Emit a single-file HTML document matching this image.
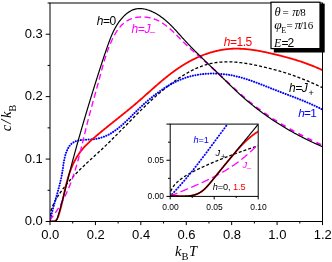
<!DOCTYPE html><html><head><meta charset="utf-8"><style>
html,body{margin:0;padding:0;background:#fff;}svg{display:block;will-change:transform;}
text{font-family:"Liberation Sans",sans-serif;}
.s{font-family:"Liberation Serif",serif;}
</style></head><body>
<svg width="332" height="262" viewBox="0 0 332 262">
<rect width="332" height="262" fill="#fff"/>
<defs><clipPath id="cm"><rect x="50.00" y="3.00" width="272.50" height="218.50"/></clipPath>
<clipPath id="ci"><rect x="170" y="124.2" width="88" height="72.2"/></clipPath></defs>
<g clip-path="url(#cm)" fill="none">
<path d="M49.67 220.93 L49.66 220.23 L49.67 219.53 L49.69 218.83 L49.73 218.14 L49.78 217.45 L49.85 216.77 L49.93 216.08 L50.02 215.41 L50.13 214.73 L50.25 214.06 L50.38 213.39 L50.52 212.73 L50.68 212.06 L50.85 211.41 L51.03 210.75 L51.22 210.10 L51.42 209.45 L51.63 208.80 L51.86 208.16 L52.09 207.52 L52.34 206.89 L52.59 206.25 L52.85 205.62 L53.12 204.99 L53.41 204.37 L53.69 203.75 L53.99 203.13 L54.30 202.51 L54.61 201.90 L54.93 201.28 L55.26 200.67 L55.60 200.07 L55.94 199.46 L56.29 198.86 L56.64 198.26 L57.00 197.67 L57.37 197.07 L57.74 196.48 L58.11 195.89 L58.49 195.30 L58.88 194.72 L59.27 194.14 L59.66 193.55 L60.06 192.98 L60.46 192.40 L60.86 191.82 L61.27 191.25 L61.68 190.68 L62.09 190.11 L62.51 189.54 L62.92 188.98 L63.34 188.42 L63.77 187.86 L64.19 187.30 L64.62 186.74 L65.05 186.19 L65.48 185.63 L65.92 185.08 L66.36 184.53 L66.80 183.99 L67.24 183.44 L67.69 182.90 L68.14 182.36 L68.59 181.83 L69.04 181.29 L69.50 180.76 L69.95 180.23 L70.41 179.70 L70.87 179.17 L71.34 178.65 L71.80 178.13 L72.27 177.61 L72.74 177.09 L73.21 176.57 L73.69 176.06 L74.16 175.55 L74.64 175.04 L75.12 174.53 L75.60 174.03 L76.09 173.53 L76.57 173.03 L77.06 172.53 L77.55 172.03 L78.04 171.54 L78.53 171.04 L79.02 170.55 L79.51 170.06 L80.01 169.57 L80.50 169.08 L81.00 168.60 L81.50 168.11 L82.00 167.63 L82.50 167.14 L83.00 166.66 L83.51 166.18 L84.01 165.70 L84.52 165.23 L85.02 164.75 L85.53 164.27 L86.04 163.80 L86.54 163.32 L87.05 162.85 L87.56 162.38 L88.07 161.90 L88.58 161.43 L89.09 160.96 L89.61 160.49 L90.12 160.02 L90.63 159.55 L91.14 159.08 L91.66 158.61 L92.17 158.14 L92.68 157.67 L93.20 157.21 L93.71 156.74 L94.22 156.27 L94.74 155.80 L95.25 155.33 L95.76 154.86 L96.27 154.39 L96.79 153.92 L97.30 153.45 L97.81 152.98 L98.32 152.51 L98.83 152.04 L99.35 151.57 L99.86 151.10 L100.37 150.63 L100.87 150.15 L101.38 149.68 L101.89 149.21 L102.40 148.73 L102.90 148.25 L103.41 147.78 L103.91 147.30 L104.42 146.82 L104.92 146.34 L105.42 145.86 L105.93 145.38 L106.43 144.90 L106.93 144.41 L107.43 143.93 L107.93 143.44 L108.42 142.96 L108.92 142.47 L109.42 141.99 L109.91 141.50 L110.41 141.01 L110.91 140.52 L111.40 140.03 L111.89 139.54 L112.39 139.05 L112.88 138.56 L113.37 138.07 L113.87 137.58 L114.36 137.09 L114.85 136.59 L115.34 136.10 L115.83 135.61 L116.32 135.11 L116.81 134.62 L117.30 134.12 L117.79 133.63 L118.28 133.13 L118.77 132.64 L119.26 132.14 L119.75 131.64 L120.24 131.15 L120.72 130.65 L121.21 130.15 L121.70 129.66 L122.19 129.16 L122.67 128.66 L123.16 128.16 L123.65 127.66 L124.14 127.17 L124.62 126.67 L125.11 126.17 L125.60 125.67 L126.08 125.18 L126.57 124.68 L127.06 124.18 L127.55 123.68 L128.03 123.18 L128.52 122.69 L129.01 122.19 L129.50 121.69 L129.98 121.19 L130.47 120.70 L130.96 120.20 L131.45 119.70 L131.94 119.21 L132.43 118.71 L132.92 118.22 L133.41 117.72 L133.90 117.22 L134.39 116.73 L134.88 116.24 L135.37 115.74 L135.86 115.25 L136.35 114.75 L136.84 114.26 L137.33 113.77 L137.83 113.28 L138.32 112.79 L138.81 112.29 L139.31 111.80 L139.80 111.31 L140.30 110.83 L140.80 110.34 L141.29 109.85 L141.79 109.36 L142.29 108.87 L142.79 108.39 L143.28 107.90 L143.78 107.42 L144.28 106.93 L144.79 106.45 L145.29 105.97 L145.79 105.49 L146.29 105.01 L146.80 104.53 L147.30 104.05 L147.81 103.57 L148.31 103.09 L148.82 102.62 L149.33 102.14 L149.84 101.67 L150.35 101.19 L150.86 100.72 L151.37 100.25 L151.88 99.78 L152.40 99.31 L152.91 98.84 L153.43 98.37 L153.95 97.91 L154.46 97.44 L154.98 96.98 L155.50 96.52 L156.02 96.05 L156.55 95.59 L157.07 95.13 L157.59 94.68 L158.12 94.22 L158.65 93.77 L159.17 93.31 L159.70 92.86 L160.23 92.41 L160.77 91.96 L161.30 91.51 L161.83 91.06 L162.37 90.62 L162.91 90.17 L163.45 89.73 L163.99 89.29 L164.53 88.85 L165.07 88.41 L165.61 87.98 L166.16 87.54 L166.71 87.11 L167.25 86.68 L167.80 86.25 L168.36 85.82 L168.91 85.39 L169.46 84.97 L170.02 84.54 L170.58 84.12 L171.14 83.70 L171.70 83.28 L172.26 82.87 L172.83 82.45 L173.39 82.04 L173.96 81.63 L174.53 81.22 L175.10 80.81 L175.67 80.41 L176.25 80.00 L176.82 79.60 L177.40 79.20 L177.98 78.81 L178.56 78.41 L179.15 78.02 L179.73 77.63 L180.32 77.24 L180.91 76.86 L181.50 76.48 L182.09 76.10 L182.69 75.72 L183.28 75.35 L183.88 74.98 L184.48 74.62 L185.08 74.25 L185.68 73.89 L186.29 73.54 L186.89 73.19 L187.50 72.84 L188.11 72.49 L188.72 72.15 L189.34 71.82 L189.95 71.48 L190.57 71.16 L191.19 70.83 L191.81 70.51 L192.43 70.20 L193.06 69.89 L193.68 69.58 L194.31 69.28 L194.94 68.98 L195.57 68.69 L196.20 68.40 L196.84 68.12 L197.47 67.85 L198.11 67.58 L198.75 67.31 L199.39 67.05 L200.04 66.80 L200.68 66.55 L201.33 66.30 L201.98 66.07 L202.63 65.84 L203.28 65.61 L203.93 65.39 L204.59 65.18 L205.24 64.97 L205.90 64.77 L206.56 64.58 L207.22 64.39 L207.89 64.21 L208.55 64.04 L209.22 63.87 L209.89 63.71 L210.56 63.56 L211.23 63.42 L211.91 63.28 L212.58 63.15 L213.26 63.02 L213.94 62.90 L214.62 62.79 L215.30 62.69 L215.99 62.59 L216.67 62.50 L217.36 62.41 L218.04 62.33 L218.73 62.26 L219.42 62.19 L220.11 62.13 L220.80 62.08 L221.49 62.03 L222.18 61.98 L222.88 61.95 L223.57 61.91 L224.27 61.89 L224.96 61.86 L225.66 61.85 L226.36 61.84 L227.06 61.83 L227.75 61.83 L228.45 61.84 L229.15 61.85 L229.85 61.86 L230.55 61.88 L231.25 61.91 L231.95 61.93 L232.65 61.97 L233.35 62.01 L234.06 62.05 L234.76 62.10 L235.46 62.15 L236.16 62.20 L236.86 62.26 L237.56 62.33 L238.26 62.39 L238.96 62.47 L239.66 62.54 L240.36 62.62 L241.06 62.70 L241.76 62.79 L242.46 62.88 L243.15 62.97 L243.85 63.07 L244.55 63.17 L245.24 63.28 L245.94 63.38 L246.63 63.49 L247.33 63.60 L248.02 63.72 L248.71 63.84 L249.40 63.96 L250.09 64.08 L250.78 64.21 L251.47 64.34 L252.15 64.47 L252.84 64.61 L253.52 64.74 L254.21 64.88 L254.89 65.02 L255.57 65.16 L256.26 65.31 L256.94 65.45 L257.62 65.60 L258.30 65.75 L258.98 65.90 L259.65 66.06 L260.33 66.21 L261.01 66.37 L261.69 66.53 L262.36 66.68 L263.04 66.84 L263.71 67.01 L264.39 67.17 L265.07 67.33 L265.74 67.49 L266.41 67.66 L267.09 67.82 L267.76 67.99 L268.44 68.16 L269.11 68.32 L269.78 68.49 L270.46 68.66 L271.13 68.83 L271.80 69.01 L272.47 69.18 L273.14 69.35 L273.82 69.53 L274.49 69.71 L275.16 69.88 L275.83 70.06 L276.50 70.24 L277.17 70.43 L277.84 70.61 L278.51 70.80 L279.17 70.98 L279.84 71.17 L280.51 71.36 L281.18 71.56 L281.84 71.75 L282.51 71.95 L283.17 72.15 L283.84 72.35 L284.50 72.55 L285.17 72.75 L285.83 72.96 L286.49 73.17 L287.15 73.38 L287.82 73.59 L288.48 73.81 L289.14 74.03 L289.80 74.25 L290.46 74.47 L291.12 74.69 L291.77 74.92 L292.43 75.15 L293.09 75.38 L293.74 75.61 L294.40 75.84 L295.06 76.08 L295.71 76.32 L296.37 76.56 L297.02 76.80 L297.67 77.04 L298.32 77.29 L298.98 77.54 L299.63 77.79 L300.28 78.04 L300.93 78.29 L301.58 78.54 L302.23 78.80 L302.87 79.06 L303.52 79.32 L304.17 79.58 L304.82 79.84 L305.46 80.11 L306.11 80.37 L306.75 80.64 L307.40 80.91 L308.04 81.18 L308.68 81.46 L309.32 81.73 L309.97 82.01 L310.61 82.28 L311.25 82.56 L311.89 82.84 L312.53 83.12 L313.16 83.41 L313.80 83.69 L314.44 83.97 L315.08 84.26 L315.71 84.55 L316.35 84.84 L316.98 85.13 L317.61 85.42 L318.25 85.72 L318.88 86.01 L319.51 86.31 L320.14 86.60 L320.77 86.90 L321.40 87.20 L322.03 87.50 L322.66 87.80" stroke="#000" stroke-width="1.3" stroke-dasharray="3 2"/>
<path d="M50.06 221.02 L50.20 220.31 L50.35 219.60 L50.49 218.89 L50.64 218.19 L50.80 217.48 L50.96 216.77 L51.12 216.07 L51.28 215.37 L51.45 214.66 L51.62 213.96 L51.79 213.26 L51.96 212.56 L52.14 211.86 L52.32 211.15 L52.50 210.46 L52.68 209.76 L52.87 209.06 L53.05 208.36 L53.24 207.66 L53.43 206.96 L53.62 206.27 L53.82 205.57 L54.01 204.87 L54.21 204.18 L54.40 203.48 L54.60 202.79 L54.80 202.09 L55.00 201.40 L55.19 200.70 L55.39 200.01 L55.59 199.31 L55.79 198.62 L55.99 197.92 L56.19 197.23 L56.39 196.53 L56.59 195.84 L56.79 195.14 L56.99 194.45 L57.18 193.75 L57.38 193.06 L57.57 192.36 L57.77 191.67 L57.96 190.97 L58.15 190.28 L58.34 189.58 L58.53 188.89 L58.72 188.19 L58.90 187.49 L59.09 186.80 L59.27 186.10 L59.45 185.40 L59.63 184.70 L59.80 184.00 L59.97 183.30 L60.14 182.60 L60.31 181.90 L60.47 181.20 L60.63 180.50 L60.79 179.80 L60.95 179.10 L61.10 178.39 L61.25 177.69 L61.39 176.98 L61.53 176.28 L61.67 175.57 L61.80 174.86 L61.93 174.16 L62.05 173.45 L62.17 172.74 L62.29 172.03 L62.40 171.31 L62.51 170.60 L62.62 169.89 L62.72 169.18 L62.82 168.46 L62.93 167.75 L63.03 167.03 L63.13 166.32 L63.24 165.60 L63.34 164.88 L63.45 164.17 L63.56 163.45 L63.68 162.73 L63.80 162.02 L63.93 161.30 L64.06 160.59 L64.20 159.87 L64.35 159.16 L64.50 158.44 L64.67 157.73 L64.84 157.01 L65.02 156.30 L65.22 155.59 L65.42 154.88 L65.64 154.17 L65.87 153.46 L66.11 152.75 L66.37 152.04 L66.64 151.34 L66.92 150.64 L67.23 149.94 L67.54 149.26 L67.88 148.59 L68.23 147.94 L68.60 147.30 L68.99 146.68 L69.39 146.09 L69.82 145.52 L70.26 144.98 L70.73 144.47 L71.21 143.99 L71.72 143.55 L72.24 143.14 L72.79 142.76 L73.35 142.41 L73.93 142.09 L74.52 141.79 L75.14 141.53 L75.76 141.28 L76.40 141.06 L77.06 140.86 L77.72 140.69 L78.40 140.53 L79.09 140.39 L79.79 140.26 L80.50 140.15 L81.22 140.05 L81.94 139.97 L82.67 139.90 L83.41 139.83 L84.16 139.77 L84.90 139.72 L85.66 139.68 L86.41 139.64 L87.17 139.60 L87.93 139.57 L88.69 139.53 L89.45 139.49 L90.20 139.45 L90.96 139.40 L91.71 139.35 L92.46 139.30 L93.21 139.23 L93.95 139.15 L94.69 139.07 L95.41 138.97 L96.14 138.85 L96.85 138.73 L97.56 138.59 L98.26 138.44 L98.96 138.28 L99.65 138.11 L100.33 137.92 L101.01 137.73 L101.68 137.52 L102.35 137.30 L103.01 137.07 L103.66 136.83 L104.31 136.58 L104.95 136.32 L105.59 136.05 L106.23 135.77 L106.85 135.48 L107.48 135.18 L108.10 134.87 L108.71 134.55 L109.32 134.22 L109.93 133.89 L110.53 133.55 L111.13 133.19 L111.72 132.83 L112.31 132.47 L112.89 132.09 L113.48 131.71 L114.05 131.32 L114.63 130.92 L115.20 130.52 L115.77 130.11 L116.33 129.69 L116.89 129.26 L117.45 128.84 L118.01 128.40 L118.56 127.96 L119.11 127.51 L119.66 127.06 L120.21 126.60 L120.75 126.14 L121.29 125.68 L121.83 125.21 L122.37 124.73 L122.91 124.25 L123.44 123.77 L123.97 123.28 L124.50 122.79 L125.03 122.30 L125.56 121.80 L126.09 121.30 L126.62 120.80 L127.14 120.30 L127.67 119.79 L128.19 119.28 L128.72 118.77 L129.24 118.26 L129.76 117.74 L130.28 117.23 L130.81 116.71 L131.33 116.20 L131.85 115.68 L132.38 115.16 L132.90 114.64 L133.42 114.12 L133.95 113.60 L134.47 113.09 L135.00 112.57 L135.53 112.05 L136.06 111.53 L136.58 111.02 L137.12 110.50 L137.65 109.99 L138.18 109.48 L138.71 108.97 L139.25 108.46 L139.78 107.95 L140.32 107.44 L140.86 106.94 L141.40 106.43 L141.94 105.93 L142.48 105.43 L143.03 104.93 L143.57 104.44 L144.12 103.94 L144.67 103.45 L145.21 102.96 L145.76 102.47 L146.32 101.98 L146.87 101.49 L147.42 101.01 L147.98 100.53 L148.54 100.05 L149.10 99.57 L149.66 99.10 L150.22 98.63 L150.78 98.16 L151.35 97.69 L151.91 97.23 L152.48 96.77 L153.05 96.31 L153.62 95.86 L154.19 95.41 L154.77 94.96 L155.34 94.51 L155.92 94.07 L156.50 93.63 L157.08 93.19 L157.66 92.76 L158.25 92.33 L158.83 91.90 L159.42 91.48 L160.01 91.06 L160.60 90.64 L161.20 90.23 L161.79 89.82 L162.39 89.42 L162.99 89.02 L163.59 88.62 L164.19 88.23 L164.79 87.84 L165.40 87.45 L166.01 87.07 L166.62 86.69 L167.23 86.32 L167.85 85.95 L168.46 85.59 L169.08 85.23 L169.70 84.88 L170.32 84.53 L170.95 84.18 L171.57 83.84 L172.20 83.50 L172.83 83.17 L173.46 82.84 L174.10 82.52 L174.74 82.21 L175.37 81.90 L176.02 81.59 L176.66 81.29 L177.31 80.99 L177.95 80.70 L178.60 80.42 L179.26 80.14 L179.91 79.86 L180.57 79.59 L181.23 79.33 L181.89 79.07 L182.55 78.82 L183.22 78.57 L183.89 78.33 L184.56 78.10 L185.23 77.87 L185.91 77.65 L186.59 77.43 L187.27 77.22 L187.95 77.02 L188.64 76.82 L189.33 76.63 L190.02 76.44 L190.71 76.26 L191.40 76.09 L192.10 75.92 L192.80 75.76 L193.50 75.60 L194.20 75.45 L194.90 75.31 L195.60 75.17 L196.31 75.03 L197.02 74.91 L197.73 74.78 L198.44 74.67 L199.15 74.56 L199.86 74.46 L200.58 74.36 L201.29 74.26 L202.01 74.18 L202.73 74.10 L203.45 74.02 L204.17 73.95 L204.89 73.89 L205.61 73.83 L206.33 73.78 L207.05 73.73 L207.78 73.69 L208.50 73.65 L209.23 73.62 L209.95 73.60 L210.68 73.58 L211.40 73.56 L212.13 73.55 L212.85 73.55 L213.58 73.55 L214.31 73.56 L215.03 73.57 L215.76 73.59 L216.48 73.62 L217.21 73.65 L217.93 73.68 L218.66 73.72 L219.39 73.77 L220.11 73.82 L220.83 73.87 L221.56 73.93 L222.28 74.00 L223.00 74.07 L223.72 74.15 L224.44 74.23 L225.16 74.32 L225.88 74.41 L226.60 74.51 L227.32 74.61 L228.03 74.72 L228.75 74.83 L229.46 74.95 L230.18 75.07 L230.89 75.20 L231.60 75.33 L232.30 75.47 L233.01 75.61 L233.72 75.76 L234.42 75.91 L235.13 76.07 L235.83 76.23 L236.53 76.40 L237.23 76.57 L237.93 76.74 L238.63 76.92 L239.33 77.10 L240.02 77.28 L240.72 77.47 L241.41 77.67 L242.10 77.86 L242.80 78.06 L243.49 78.27 L244.18 78.47 L244.87 78.68 L245.56 78.90 L246.25 79.11 L246.93 79.33 L247.62 79.55 L248.31 79.78 L248.99 80.01 L249.67 80.24 L250.36 80.47 L251.04 80.70 L251.72 80.94 L252.40 81.18 L253.09 81.42 L253.77 81.67 L254.45 81.91 L255.13 82.16 L255.80 82.41 L256.48 82.66 L257.16 82.91 L257.84 83.17 L258.51 83.42 L259.19 83.68 L259.87 83.94 L260.54 84.20 L261.22 84.46 L261.89 84.72 L262.57 84.99 L263.24 85.25 L263.92 85.51 L264.59 85.78 L265.27 86.05 L265.94 86.31 L266.61 86.58 L267.29 86.84 L267.96 87.11 L268.63 87.38 L269.31 87.65 L269.98 87.91 L270.65 88.18 L271.33 88.45 L272.00 88.71 L272.67 88.98 L273.34 89.24 L274.02 89.51 L274.69 89.77 L275.36 90.04 L276.04 90.30 L276.71 90.56 L277.39 90.82 L278.06 91.08 L278.73 91.34 L279.41 91.60 L280.08 91.86 L280.76 92.11 L281.43 92.37 L282.10 92.63 L282.78 92.88 L283.45 93.14 L284.13 93.40 L284.80 93.65 L285.48 93.91 L286.15 94.16 L286.82 94.42 L287.50 94.67 L288.17 94.93 L288.84 95.18 L289.52 95.44 L290.19 95.69 L290.86 95.95 L291.54 96.20 L292.21 96.46 L292.88 96.72 L293.56 96.97 L294.23 97.23 L294.90 97.49 L295.57 97.75 L296.24 98.01 L296.91 98.27 L297.58 98.53 L298.25 98.80 L298.92 99.06 L299.59 99.33 L300.26 99.59 L300.93 99.86 L301.60 100.13 L302.27 100.40 L302.94 100.67 L303.60 100.94 L304.27 101.22 L304.93 101.49 L305.60 101.77 L306.27 102.05 L306.93 102.33 L307.59 102.61 L308.26 102.89 L308.92 103.18 L309.58 103.47 L310.24 103.75 L310.90 104.05 L311.57 104.34 L312.22 104.64 L312.88 104.93 L313.54 105.23 L314.20 105.54 L314.86 105.84 L315.51 106.15 L316.17 106.46 L316.82 106.77 L317.48 107.09 L318.13 107.40 L318.78 107.72 L319.43 108.05 L320.08 108.37 L320.73 108.70 L321.38 109.03 L322.03 109.37 L322.68 109.70" stroke="#00f" stroke-width="2" stroke-dasharray="0.1 2.5" stroke-linecap="round"/>
<path d="M49.87 220.91 L50.86 221.17 L51.77 221.32 L52.60 221.38 L53.36 221.34 L54.05 221.22 L54.68 221.01 L55.24 220.73 L55.75 220.38 L56.21 219.97 L56.63 219.51 L57.00 218.99 L57.34 218.43 L57.64 217.84 L57.92 217.21 L58.18 216.56 L58.42 215.89 L58.64 215.21 L58.86 214.53 L59.08 213.84 L59.29 213.15 L59.49 212.46 L59.70 211.76 L59.89 211.07 L60.09 210.38 L60.28 209.68 L60.47 208.98 L60.65 208.29 L60.84 207.59 L61.01 206.89 L61.19 206.19 L61.37 205.49 L61.54 204.79 L61.71 204.09 L61.88 203.38 L62.04 202.68 L62.21 201.98 L62.37 201.27 L62.53 200.57 L62.69 199.86 L62.85 199.16 L63.01 198.45 L63.17 197.75 L63.32 197.04 L63.48 196.33 L63.64 195.63 L63.79 194.92 L63.95 194.21 L64.11 193.51 L64.27 192.80 L64.42 192.09 L64.58 191.39 L64.74 190.68 L64.90 189.97 L65.06 189.27 L65.23 188.56 L65.39 187.86 L65.56 187.15 L65.72 186.45 L65.89 185.74 L66.07 185.04 L66.24 184.34 L66.42 183.63 L66.60 182.93 L66.78 182.23 L66.97 181.53 L67.15 180.83 L67.35 180.13 L67.54 179.43 L67.74 178.74 L67.94 178.04 L68.15 177.35 L68.36 176.65 L68.57 175.96 L68.79 175.27 L69.01 174.57 L69.24 173.89 L69.47 173.20 L69.71 172.51 L69.95 171.82 L70.20 171.14 L70.46 170.46 L70.72 169.78 L70.98 169.10 L71.25 168.42 L71.52 167.74 L71.81 167.07 L72.09 166.40 L72.38 165.73 L72.68 165.06 L72.98 164.40 L73.29 163.74 L73.61 163.08 L73.93 162.43 L74.25 161.78 L74.59 161.13 L74.92 160.49 L75.27 159.84 L75.62 159.21 L75.97 158.58 L76.34 157.95 L76.70 157.32 L77.08 156.70 L77.46 156.09 L77.85 155.47 L78.24 154.87 L78.64 154.26 L79.04 153.67 L79.46 153.08 L79.87 152.49 L80.30 151.91 L80.73 151.33 L81.17 150.76 L81.61 150.20 L82.06 149.64 L82.52 149.09 L82.99 148.54 L83.46 148.00 L83.93 147.46 L84.41 146.93 L84.90 146.40 L85.39 145.88 L85.89 145.37 L86.39 144.85 L86.90 144.35 L87.41 143.84 L87.93 143.34 L88.44 142.84 L88.97 142.35 L89.49 141.86 L90.02 141.37 L90.55 140.89 L91.09 140.40 L91.62 139.93 L92.16 139.45 L92.71 138.97 L93.25 138.50 L93.79 138.03 L94.34 137.56 L94.89 137.09 L95.43 136.62 L95.98 136.15 L96.53 135.68 L97.08 135.22 L97.63 134.75 L98.19 134.29 L98.74 133.83 L99.29 133.37 L99.85 132.91 L100.40 132.45 L100.96 131.99 L101.51 131.53 L102.07 131.07 L102.63 130.61 L103.19 130.16 L103.74 129.70 L104.30 129.24 L104.86 128.79 L105.42 128.33 L105.98 127.88 L106.54 127.43 L107.11 126.97 L107.67 126.52 L108.23 126.07 L108.79 125.62 L109.35 125.17 L109.92 124.71 L110.48 124.26 L111.04 123.81 L111.61 123.36 L112.17 122.91 L112.73 122.46 L113.30 122.01 L113.86 121.56 L114.43 121.11 L114.99 120.66 L115.56 120.21 L116.12 119.76 L116.68 119.31 L117.25 118.86 L117.81 118.41 L118.38 117.96 L118.94 117.51 L119.51 117.06 L120.07 116.61 L120.63 116.16 L121.20 115.71 L121.76 115.25 L122.32 114.80 L122.89 114.35 L123.45 113.90 L124.01 113.44 L124.57 112.99 L125.13 112.53 L125.69 112.08 L126.26 111.62 L126.82 111.17 L127.38 110.71 L127.93 110.25 L128.49 109.79 L129.05 109.34 L129.61 108.88 L130.17 108.42 L130.72 107.95 L131.28 107.49 L131.84 107.03 L132.39 106.57 L132.94 106.10 L133.50 105.64 L134.05 105.17 L134.60 104.70 L135.15 104.23 L135.70 103.76 L136.25 103.29 L136.80 102.82 L137.35 102.35 L137.90 101.88 L138.44 101.40 L138.99 100.93 L139.54 100.45 L140.08 99.97 L140.63 99.50 L141.17 99.02 L141.71 98.54 L142.25 98.06 L142.80 97.58 L143.34 97.10 L143.88 96.62 L144.42 96.14 L144.96 95.66 L145.51 95.17 L146.05 94.69 L146.59 94.21 L147.13 93.73 L147.67 93.25 L148.21 92.77 L148.75 92.28 L149.29 91.80 L149.83 91.32 L150.37 90.84 L150.91 90.36 L151.45 89.88 L152.00 89.40 L152.54 88.92 L153.08 88.44 L153.62 87.96 L154.16 87.48 L154.71 87.00 L155.25 86.53 L155.80 86.05 L156.34 85.57 L156.89 85.10 L157.43 84.62 L157.98 84.15 L158.53 83.68 L159.07 83.21 L159.62 82.74 L160.17 82.27 L160.72 81.80 L161.27 81.34 L161.82 80.87 L162.38 80.41 L162.93 79.95 L163.49 79.49 L164.04 79.03 L164.60 78.57 L165.16 78.11 L165.72 77.66 L166.28 77.20 L166.84 76.75 L167.40 76.30 L167.97 75.86 L168.53 75.41 L169.10 74.97 L169.67 74.53 L170.24 74.09 L170.81 73.65 L171.38 73.21 L171.96 72.78 L172.53 72.35 L173.11 71.92 L173.69 71.50 L174.27 71.07 L174.85 70.65 L175.44 70.23 L176.03 69.82 L176.61 69.40 L177.20 68.99 L177.80 68.58 L178.39 68.18 L178.99 67.77 L179.59 67.38 L180.19 66.98 L180.79 66.58 L181.39 66.19 L182.00 65.81 L182.61 65.42 L183.22 65.04 L183.83 64.66 L184.45 64.29 L185.07 63.91 L185.69 63.55 L186.31 63.18 L186.94 62.82 L187.56 62.46 L188.19 62.11 L188.83 61.76 L189.46 61.41 L190.10 61.07 L190.74 60.73 L191.38 60.39 L192.02 60.06 L192.67 59.73 L193.32 59.40 L193.97 59.08 L194.62 58.77 L195.27 58.45 L195.93 58.15 L196.59 57.84 L197.24 57.54 L197.91 57.25 L198.57 56.95 L199.24 56.67 L199.90 56.38 L200.57 56.10 L201.24 55.83 L201.91 55.56 L202.59 55.29 L203.26 55.03 L203.94 54.78 L204.62 54.53 L205.30 54.28 L205.98 54.04 L206.66 53.80 L207.35 53.57 L208.03 53.34 L208.72 53.12 L209.41 52.90 L210.10 52.68 L210.79 52.48 L211.48 52.27 L212.18 52.07 L212.87 51.88 L213.57 51.69 L214.27 51.51 L214.96 51.33 L215.66 51.16 L216.36 51.00 L217.07 50.84 L217.77 50.68 L218.47 50.53 L219.18 50.38 L219.88 50.25 L220.59 50.11 L221.29 49.98 L222.00 49.86 L222.71 49.75 L223.42 49.64 L224.13 49.53 L224.84 49.43 L225.55 49.34 L226.26 49.25 L226.97 49.17 L227.68 49.10 L228.40 49.03 L229.11 48.96 L229.82 48.91 L230.54 48.86 L231.25 48.81 L231.97 48.77 L232.68 48.74 L233.40 48.72 L234.11 48.70 L234.83 48.68 L235.55 48.67 L236.26 48.67 L236.98 48.67 L237.70 48.68 L238.41 48.69 L239.13 48.71 L239.85 48.73 L240.57 48.76 L241.28 48.79 L242.00 48.83 L242.72 48.87 L243.44 48.92 L244.16 48.97 L244.88 49.02 L245.59 49.08 L246.31 49.15 L247.03 49.22 L247.75 49.29 L248.47 49.37 L249.19 49.45 L249.90 49.54 L250.62 49.63 L251.34 49.72 L252.06 49.82 L252.78 49.92 L253.49 50.02 L254.21 50.13 L254.93 50.24 L255.65 50.35 L256.36 50.47 L257.08 50.59 L257.80 50.71 L258.51 50.84 L259.23 50.97 L259.94 51.10 L260.66 51.23 L261.37 51.37 L262.09 51.51 L262.80 51.65 L263.51 51.79 L264.23 51.94 L264.94 52.09 L265.65 52.24 L266.36 52.39 L267.08 52.54 L267.79 52.70 L268.50 52.86 L269.21 53.02 L269.92 53.18 L270.62 53.34 L271.33 53.51 L272.04 53.67 L272.75 53.84 L273.45 54.00 L274.16 54.17 L274.86 54.34 L275.57 54.51 L276.27 54.68 L276.97 54.86 L277.68 55.03 L278.38 55.20 L279.08 55.38 L279.78 55.55 L280.48 55.73 L281.17 55.91 L281.87 56.09 L282.57 56.27 L283.27 56.45 L283.96 56.63 L284.66 56.81 L285.35 57.00 L286.05 57.18 L286.74 57.37 L287.43 57.56 L288.12 57.75 L288.81 57.94 L289.51 58.13 L290.20 58.33 L290.88 58.52 L291.57 58.72 L292.26 58.92 L292.95 59.12 L293.64 59.32 L294.32 59.53 L295.01 59.73 L295.70 59.94 L296.38 60.15 L297.06 60.37 L297.75 60.58 L298.43 60.80 L299.11 61.01 L299.80 61.24 L300.48 61.46 L301.16 61.68 L301.84 61.91 L302.52 62.14 L303.20 62.37 L303.88 62.61 L304.56 62.84 L305.24 63.08 L305.91 63.32 L306.59 63.57 L307.27 63.81 L307.94 64.06 L308.62 64.32 L309.30 64.57 L309.97 64.83 L310.65 65.09 L311.32 65.35 L311.99 65.62 L312.67 65.89 L313.34 66.16 L314.01 66.43 L314.68 66.71 L315.36 66.99 L316.03 67.27 L316.70 67.56 L317.37 67.85 L318.04 68.15 L318.71 68.44 L319.38 68.74 L320.05 69.05 L320.72 69.35 L321.39 69.66 L322.05 69.98 L322.72 70.30" stroke="#f00" stroke-width="1.8"/>
<clipPath id="cL"><rect x="0" y="0" width="205" height="262"/></clipPath><clipPath id="cR"><rect x="205" y="0" width="130" height="262"/></clipPath>
<g clip-path="url(#cL)"><path d="M49.66 220.40 L50.26 219.67 L50.85 218.93 L51.43 218.19 L52.00 217.44 L52.57 216.70 L53.13 215.95 L53.68 215.19 L54.23 214.44 L54.77 213.68 L55.30 212.91 L55.82 212.15 L56.34 211.38 L56.85 210.61 L57.36 209.83 L57.85 209.06 L58.34 208.28 L58.83 207.50 L59.31 206.71 L59.78 205.92 L60.24 205.13 L60.70 204.34 L61.16 203.55 L61.60 202.75 L62.05 201.95 L62.48 201.15 L62.91 200.34 L63.34 199.53 L63.75 198.72 L64.17 197.91 L64.57 197.10 L64.98 196.28 L65.37 195.46 L65.76 194.64 L66.15 193.82 L66.53 192.99 L66.91 192.17 L67.28 191.34 L67.65 190.51 L68.01 189.67 L68.37 188.84 L68.72 188.00 L69.07 187.16 L69.41 186.32 L69.75 185.48 L70.08 184.63 L70.41 183.78 L70.74 182.94 L71.06 182.09 L71.38 181.24 L71.69 180.38 L72.00 179.53 L72.31 178.67 L72.61 177.81 L72.91 176.95 L73.21 176.09 L73.50 175.23 L73.79 174.37 L74.07 173.50 L74.36 172.64 L74.64 171.77 L74.91 170.90 L75.19 170.03 L75.46 169.16 L75.72 168.29 L75.99 167.41 L76.25 166.54 L76.51 165.66 L76.76 164.78 L77.02 163.91 L77.27 163.03 L77.52 162.15 L77.77 161.27 L78.01 160.38 L78.25 159.50 L78.49 158.62 L78.73 157.73 L78.97 156.85 L79.20 155.96 L79.44 155.08 L79.67 154.19 L79.90 153.30 L80.13 152.42 L80.36 151.53 L80.58 150.64 L80.81 149.75 L81.03 148.86 L81.25 147.97 L81.47 147.08 L81.69 146.18 L81.91 145.29 L82.13 144.40 L82.35 143.51 L82.57 142.62 L82.78 141.72 L83.00 140.83 L83.22 139.94 L83.43 139.05 L83.65 138.15 L83.86 137.26 L84.08 136.37 L84.29 135.47 L84.51 134.58 L84.72 133.69 L84.94 132.79 L85.15 131.90 L85.37 131.01 L85.59 130.12 L85.80 129.22 L86.02 128.33 L86.24 127.44 L86.46 126.55 L86.68 125.66 L86.90 124.77 L87.12 123.88 L87.34 122.99 L87.57 122.10 L87.79 121.21 L88.02 120.33 L88.25 119.44 L88.48 118.55 L88.71 117.67 L88.94 116.78 L89.17 115.90 L89.40 115.01 L89.64 114.13 L89.87 113.25 L90.11 112.36 L90.35 111.48 L90.59 110.60 L90.83 109.72 L91.07 108.84 L91.31 107.96 L91.55 107.08 L91.79 106.20 L92.04 105.32 L92.28 104.44 L92.52 103.56 L92.77 102.68 L93.01 101.80 L93.26 100.92 L93.50 100.04 L93.75 99.16 L93.99 98.29 L94.24 97.41 L94.48 96.53 L94.73 95.65 L94.98 94.77 L95.22 93.89 L95.47 93.02 L95.71 92.14 L95.96 91.26 L96.20 90.38 L96.45 89.50 L96.69 88.62 L96.93 87.74 L97.18 86.86 L97.42 85.98 L97.66 85.10 L97.90 84.22 L98.14 83.34 L98.38 82.46 L98.62 81.58 L98.86 80.70 L99.10 79.82 L99.33 78.94 L99.57 78.06 L99.80 77.17 L100.04 76.29 L100.27 75.41 L100.51 74.52 L100.74 73.64 L100.98 72.76 L101.21 71.87 L101.45 70.99 L101.69 70.11 L101.93 69.22 L102.17 68.34 L102.41 67.46 L102.65 66.57 L102.90 65.69 L103.15 64.81 L103.40 63.93 L103.65 63.05 L103.91 62.17 L104.17 61.28 L104.43 60.41 L104.70 59.53 L104.97 58.65 L105.24 57.77 L105.52 56.89 L105.80 56.02 L106.08 55.14 L106.37 54.26 L106.67 53.39 L106.97 52.52 L107.27 51.65 L107.58 50.77 L107.90 49.90 L108.22 49.04 L108.55 48.17 L108.88 47.30 L109.22 46.44 L109.56 45.57 L109.92 44.71 L110.28 43.85 L110.64 42.99 L111.02 42.13 L111.40 41.27 L111.79 40.42 L112.19 39.57 L112.59 38.72 L113.01 37.88 L113.43 37.05 L113.86 36.22 L114.31 35.40 L114.76 34.58 L115.23 33.78 L115.70 32.98 L116.19 32.20 L116.68 31.43 L117.19 30.67 L117.71 29.92 L118.25 29.18 L118.79 28.46 L119.35 27.76 L119.93 27.07 L120.51 26.39 L121.11 25.74 L121.73 25.10 L122.36 24.48 L123.00 23.88 L123.66 23.30 L124.34 22.74 L125.03 22.21 L125.74 21.69 L126.46 21.20 L127.20 20.74 L127.96 20.30 L128.74 19.88 L129.53 19.49 L130.35 19.13 L131.18 18.80 L132.03 18.50 L132.89 18.22 L133.78 17.97 L134.67 17.75 L135.58 17.56 L136.50 17.39 L137.42 17.25 L138.36 17.14 L139.30 17.05 L140.25 16.99 L141.20 16.95 L142.16 16.94 L143.11 16.95 L144.07 16.99 L145.02 17.06 L145.97 17.15 L146.92 17.26 L147.86 17.39 L148.79 17.55 L149.71 17.74 L150.62 17.94 L151.52 18.17 L152.41 18.42 L153.29 18.69 L154.15 18.99 L155.00 19.30 L155.84 19.63 L156.67 19.99 L157.49 20.36 L158.30 20.75 L159.10 21.16 L159.89 21.58 L160.66 22.02 L161.43 22.48 L162.20 22.95 L162.95 23.44 L163.70 23.94 L164.43 24.45 L165.16 24.98 L165.89 25.52 L166.60 26.07 L167.31 26.63 L168.02 27.21 L168.72 27.79 L169.41 28.38 L170.10 28.98 L170.78 29.59 L171.46 30.21 L172.13 30.84 L172.80 31.47 L173.47 32.10 L174.14 32.74 L174.80 33.39 L175.46 34.04 L176.12 34.70 L176.77 35.35 L177.42 36.01 L178.08 36.68 L178.73 37.34 L179.38 38.00 L180.03 38.66 L180.68 39.33 L181.34 39.99 L181.99 40.65 L182.64 41.31 L183.30 41.96 L183.96 42.61 L184.62 43.26 L185.28 43.91 L185.94 44.54 L186.61 45.18 L187.27 45.81 L187.94 46.44 L188.61 47.07 L189.29 47.69 L189.96 48.31 L190.64 48.93 L191.31 49.54 L191.99 50.15 L192.67 50.76 L193.35 51.37 L194.03 51.98 L194.72 52.58 L195.40 53.18 L196.08 53.78 L196.77 54.38 L197.45 54.98 L198.14 55.58 L198.83 56.17 L199.51 56.77 L200.20 57.36 L200.88 57.96 L201.57 58.55 L202.26 59.15 L202.94 59.74 L203.63 60.34 L204.31 60.93 L205.00 61.53 L205.68 62.12 L206.37 62.72 L207.05 63.32 L207.73 63.92 L208.41 64.52 L209.09 65.12 L209.77 65.73 L210.45 66.33 L211.13 66.94 L211.80 67.55 L212.48 68.16 L213.15 68.77 L213.83 69.39 L214.50 70.00 L215.17 70.62 L215.84 71.24 L216.51 71.86 L217.18 72.48 L217.85 73.10 L218.52 73.72 L219.19 74.34 L219.86 74.97 L220.52 75.59 L221.19 76.21 L221.86 76.84 L222.53 77.46 L223.19 78.09 L223.86 78.72 L224.53 79.34 L225.19 79.97 L225.86 80.60 L226.53 81.22 L227.20 81.85 L227.86 82.47 L228.53 83.10 L229.20 83.73 L229.87 84.35 L230.54 84.98 L231.21 85.60 L231.88 86.22 L232.55 86.85 L233.23 87.47 L233.90 88.09 L234.57 88.71 L235.25 89.33 L235.92 89.95 L236.60 90.56 L237.28 91.18 L237.96 91.79 L238.64 92.41 L239.32 93.02 L240.00 93.63 L240.69 94.24 L241.37 94.84 L242.06 95.45 L242.75 96.05 L243.44 96.65 L244.13 97.25 L244.83 97.85 L245.52 98.44 L246.22 99.03 L246.92 99.62 L247.62 100.21 L248.32 100.80 L249.03 101.38 L249.74 101.96 L250.45 102.54 L251.16 103.11 L251.87 103.68 L252.59 104.25 L253.31 104.82 L254.03 105.38 L254.75 105.94 L255.47 106.50 L256.20 107.06 L256.93 107.61 L257.66 108.16 L258.39 108.71 L259.13 109.25 L259.87 109.79 L260.61 110.33 L261.35 110.87 L262.09 111.40 L262.83 111.93 L263.58 112.46 L264.33 112.99 L265.08 113.51 L265.83 114.03 L266.59 114.55 L267.34 115.07 L268.10 115.58 L268.86 116.09 L269.62 116.60 L270.38 117.11 L271.15 117.61 L271.91 118.12 L272.68 118.61 L273.45 119.11 L274.22 119.61 L274.99 120.10 L275.77 120.59 L276.54 121.07 L277.32 121.56 L278.10 122.04 L278.88 122.52 L279.66 123.00 L280.45 123.48 L281.23 123.95 L282.02 124.42 L282.80 124.89 L283.59 125.36 L284.38 125.82 L285.17 126.28 L285.97 126.74 L286.76 127.20 L287.55 127.66 L288.35 128.11 L289.15 128.56 L289.95 129.01 L290.75 129.46 L291.55 129.90 L292.35 130.34 L293.15 130.79 L293.96 131.22 L294.76 131.66 L295.57 132.10 L296.38 132.53 L297.18 132.96 L297.99 133.39 L298.80 133.81 L299.62 134.24 L300.43 134.66 L301.24 135.08 L302.05 135.50 L302.87 135.92 L303.68 136.33 L304.50 136.75 L305.32 137.16 L306.14 137.57 L306.96 137.98 L307.78 138.38 L308.60 138.79 L309.42 139.19 L310.24 139.59 L311.06 139.99 L311.88 140.38 L312.71 140.78 L313.53 141.17 L314.36 141.56 L315.18 141.95 L316.01 142.34 L316.83 142.73 L317.66 143.11 L318.49 143.50 L319.31 143.88 L320.14 144.26 L320.97 144.64 L321.80 145.01 L322.63 145.39" stroke="#f0f" stroke-width="1.35" stroke-dasharray="6 3.4"/></g>
<g clip-path="url(#cR)"><path d="M49.66 220.40 L50.26 219.67 L50.85 218.93 L51.43 218.19 L52.00 217.44 L52.57 216.70 L53.13 215.95 L53.68 215.19 L54.23 214.44 L54.77 213.68 L55.30 212.91 L55.82 212.15 L56.34 211.38 L56.85 210.61 L57.36 209.83 L57.85 209.06 L58.34 208.28 L58.83 207.50 L59.31 206.71 L59.78 205.92 L60.24 205.13 L60.70 204.34 L61.16 203.55 L61.60 202.75 L62.05 201.95 L62.48 201.15 L62.91 200.34 L63.34 199.53 L63.75 198.72 L64.17 197.91 L64.57 197.10 L64.98 196.28 L65.37 195.46 L65.76 194.64 L66.15 193.82 L66.53 192.99 L66.91 192.17 L67.28 191.34 L67.65 190.51 L68.01 189.67 L68.37 188.84 L68.72 188.00 L69.07 187.16 L69.41 186.32 L69.75 185.48 L70.08 184.63 L70.41 183.78 L70.74 182.94 L71.06 182.09 L71.38 181.24 L71.69 180.38 L72.00 179.53 L72.31 178.67 L72.61 177.81 L72.91 176.95 L73.21 176.09 L73.50 175.23 L73.79 174.37 L74.07 173.50 L74.36 172.64 L74.64 171.77 L74.91 170.90 L75.19 170.03 L75.46 169.16 L75.72 168.29 L75.99 167.41 L76.25 166.54 L76.51 165.66 L76.76 164.78 L77.02 163.91 L77.27 163.03 L77.52 162.15 L77.77 161.27 L78.01 160.38 L78.25 159.50 L78.49 158.62 L78.73 157.73 L78.97 156.85 L79.20 155.96 L79.44 155.08 L79.67 154.19 L79.90 153.30 L80.13 152.42 L80.36 151.53 L80.58 150.64 L80.81 149.75 L81.03 148.86 L81.25 147.97 L81.47 147.08 L81.69 146.18 L81.91 145.29 L82.13 144.40 L82.35 143.51 L82.57 142.62 L82.78 141.72 L83.00 140.83 L83.22 139.94 L83.43 139.05 L83.65 138.15 L83.86 137.26 L84.08 136.37 L84.29 135.47 L84.51 134.58 L84.72 133.69 L84.94 132.79 L85.15 131.90 L85.37 131.01 L85.59 130.12 L85.80 129.22 L86.02 128.33 L86.24 127.44 L86.46 126.55 L86.68 125.66 L86.90 124.77 L87.12 123.88 L87.34 122.99 L87.57 122.10 L87.79 121.21 L88.02 120.33 L88.25 119.44 L88.48 118.55 L88.71 117.67 L88.94 116.78 L89.17 115.90 L89.40 115.01 L89.64 114.13 L89.87 113.25 L90.11 112.36 L90.35 111.48 L90.59 110.60 L90.83 109.72 L91.07 108.84 L91.31 107.96 L91.55 107.08 L91.79 106.20 L92.04 105.32 L92.28 104.44 L92.52 103.56 L92.77 102.68 L93.01 101.80 L93.26 100.92 L93.50 100.04 L93.75 99.16 L93.99 98.29 L94.24 97.41 L94.48 96.53 L94.73 95.65 L94.98 94.77 L95.22 93.89 L95.47 93.02 L95.71 92.14 L95.96 91.26 L96.20 90.38 L96.45 89.50 L96.69 88.62 L96.93 87.74 L97.18 86.86 L97.42 85.98 L97.66 85.10 L97.90 84.22 L98.14 83.34 L98.38 82.46 L98.62 81.58 L98.86 80.70 L99.10 79.82 L99.33 78.94 L99.57 78.06 L99.80 77.17 L100.04 76.29 L100.27 75.41 L100.51 74.52 L100.74 73.64 L100.98 72.76 L101.21 71.87 L101.45 70.99 L101.69 70.11 L101.93 69.22 L102.17 68.34 L102.41 67.46 L102.65 66.57 L102.90 65.69 L103.15 64.81 L103.40 63.93 L103.65 63.05 L103.91 62.17 L104.17 61.28 L104.43 60.41 L104.70 59.53 L104.97 58.65 L105.24 57.77 L105.52 56.89 L105.80 56.02 L106.08 55.14 L106.37 54.26 L106.67 53.39 L106.97 52.52 L107.27 51.65 L107.58 50.77 L107.90 49.90 L108.22 49.04 L108.55 48.17 L108.88 47.30 L109.22 46.44 L109.56 45.57 L109.92 44.71 L110.28 43.85 L110.64 42.99 L111.02 42.13 L111.40 41.27 L111.79 40.42 L112.19 39.57 L112.59 38.72 L113.01 37.88 L113.43 37.05 L113.86 36.22 L114.31 35.40 L114.76 34.58 L115.23 33.78 L115.70 32.98 L116.19 32.20 L116.68 31.43 L117.19 30.67 L117.71 29.92 L118.25 29.18 L118.79 28.46 L119.35 27.76 L119.93 27.07 L120.51 26.39 L121.11 25.74 L121.73 25.10 L122.36 24.48 L123.00 23.88 L123.66 23.30 L124.34 22.74 L125.03 22.21 L125.74 21.69 L126.46 21.20 L127.20 20.74 L127.96 20.30 L128.74 19.88 L129.53 19.49 L130.35 19.13 L131.18 18.80 L132.03 18.50 L132.89 18.22 L133.78 17.97 L134.67 17.75 L135.58 17.56 L136.50 17.39 L137.42 17.25 L138.36 17.14 L139.30 17.05 L140.25 16.99 L141.20 16.95 L142.16 16.94 L143.11 16.95 L144.07 16.99 L145.02 17.06 L145.97 17.15 L146.92 17.26 L147.86 17.39 L148.79 17.55 L149.71 17.74 L150.62 17.94 L151.52 18.17 L152.41 18.42 L153.29 18.69 L154.15 18.99 L155.00 19.30 L155.84 19.63 L156.67 19.99 L157.49 20.36 L158.30 20.75 L159.10 21.16 L159.89 21.58 L160.66 22.02 L161.43 22.48 L162.20 22.95 L162.95 23.44 L163.70 23.94 L164.43 24.45 L165.16 24.98 L165.89 25.52 L166.60 26.07 L167.31 26.63 L168.02 27.21 L168.72 27.79 L169.41 28.38 L170.10 28.98 L170.78 29.59 L171.46 30.21 L172.13 30.84 L172.80 31.47 L173.47 32.10 L174.14 32.74 L174.80 33.39 L175.46 34.04 L176.12 34.70 L176.77 35.35 L177.42 36.01 L178.08 36.68 L178.73 37.34 L179.38 38.00 L180.03 38.66 L180.68 39.33 L181.34 39.99 L181.99 40.65 L182.64 41.31 L183.30 41.96 L183.96 42.61 L184.62 43.26 L185.28 43.91 L185.94 44.54 L186.61 45.18 L187.27 45.81 L187.94 46.44 L188.61 47.07 L189.29 47.69 L189.96 48.31 L190.64 48.93 L191.31 49.54 L191.99 50.15 L192.67 50.76 L193.35 51.37 L194.03 51.98 L194.72 52.58 L195.40 53.18 L196.08 53.78 L196.77 54.38 L197.45 54.98 L198.14 55.58 L198.83 56.17 L199.51 56.77 L200.20 57.36 L200.88 57.96 L201.57 58.55 L202.26 59.15 L202.94 59.74 L203.63 60.34 L204.31 60.93 L205.00 61.53 L205.68 62.12 L206.37 62.72 L207.05 63.32 L207.73 63.92 L208.41 64.52 L209.09 65.12 L209.77 65.73 L210.45 66.33 L211.13 66.94 L211.80 67.55 L212.48 68.16 L213.15 68.77 L213.83 69.39 L214.50 70.00 L215.17 70.62 L215.84 71.24 L216.51 71.86 L217.18 72.48 L217.85 73.10 L218.52 73.72 L219.19 74.34 L219.86 74.97 L220.52 75.59 L221.19 76.21 L221.86 76.84 L222.53 77.46 L223.19 78.09 L223.86 78.72 L224.53 79.34 L225.19 79.97 L225.86 80.60 L226.53 81.22 L227.20 81.85 L227.86 82.47 L228.53 83.10 L229.20 83.73 L229.87 84.35 L230.54 84.98 L231.21 85.60 L231.88 86.22 L232.55 86.85 L233.23 87.47 L233.90 88.09 L234.57 88.71 L235.25 89.33 L235.92 89.95 L236.60 90.56 L237.28 91.18 L237.96 91.79 L238.64 92.41 L239.32 93.02 L240.00 93.63 L240.69 94.24 L241.37 94.84 L242.06 95.45 L242.75 96.05 L243.44 96.65 L244.13 97.25 L244.83 97.85 L245.52 98.44 L246.22 99.03 L246.92 99.62 L247.62 100.21 L248.32 100.80 L249.03 101.38 L249.74 101.96 L250.45 102.54 L251.16 103.11 L251.87 103.68 L252.59 104.25 L253.31 104.82 L254.03 105.38 L254.75 105.94 L255.47 106.50 L256.20 107.06 L256.93 107.61 L257.66 108.16 L258.39 108.71 L259.13 109.25 L259.87 109.79 L260.61 110.33 L261.35 110.87 L262.09 111.40 L262.83 111.93 L263.58 112.46 L264.33 112.99 L265.08 113.51 L265.83 114.03 L266.59 114.55 L267.34 115.07 L268.10 115.58 L268.86 116.09 L269.62 116.60 L270.38 117.11 L271.15 117.61 L271.91 118.12 L272.68 118.61 L273.45 119.11 L274.22 119.61 L274.99 120.10 L275.77 120.59 L276.54 121.07 L277.32 121.56 L278.10 122.04 L278.88 122.52 L279.66 123.00 L280.45 123.48 L281.23 123.95 L282.02 124.42 L282.80 124.89 L283.59 125.36 L284.38 125.82 L285.17 126.28 L285.97 126.74 L286.76 127.20 L287.55 127.66 L288.35 128.11 L289.15 128.56 L289.95 129.01 L290.75 129.46 L291.55 129.90 L292.35 130.34 L293.15 130.79 L293.96 131.22 L294.76 131.66 L295.57 132.10 L296.38 132.53 L297.18 132.96 L297.99 133.39 L298.80 133.81 L299.62 134.24 L300.43 134.66 L301.24 135.08 L302.05 135.50 L302.87 135.92 L303.68 136.33 L304.50 136.75 L305.32 137.16 L306.14 137.57 L306.96 137.98 L307.78 138.38 L308.60 138.79 L309.42 139.19 L310.24 139.59 L311.06 139.99 L311.88 140.38 L312.71 140.78 L313.53 141.17 L314.36 141.56 L315.18 141.95 L316.01 142.34 L316.83 142.73 L317.66 143.11 L318.49 143.50 L319.31 143.88 L320.14 144.26 L320.97 144.64 L321.80 145.01 L322.63 145.39" stroke="#f0f" stroke-width="1.7" stroke-dasharray="5.4 4.6"/></g>
<path d="M49.83 220.72 L50.95 221.01 L52.10 221.22 L53.21 221.32 L54.26 221.28 L55.18 221.09 L55.95 220.70 L56.53 220.12 L56.95 219.38 L57.28 218.54 L57.56 217.65 L57.83 216.77 L58.10 215.87 L58.37 214.98 L58.64 214.08 L58.91 213.19 L59.17 212.29 L59.43 211.39 L59.69 210.49 L59.95 209.59 L60.20 208.68 L60.46 207.78 L60.71 206.87 L60.96 205.96 L61.21 205.05 L61.45 204.14 L61.70 203.23 L61.94 202.32 L62.19 201.40 L62.43 200.49 L62.67 199.57 L62.91 198.66 L63.15 197.74 L63.39 196.82 L63.62 195.91 L63.86 194.99 L64.10 194.07 L64.33 193.15 L64.56 192.23 L64.80 191.31 L65.03 190.38 L65.26 189.46 L65.50 188.54 L65.73 187.62 L65.96 186.70 L66.19 185.77 L66.43 184.85 L66.66 183.93 L66.89 183.01 L67.12 182.08 L67.36 181.16 L67.59 180.24 L67.82 179.32 L68.06 178.40 L68.29 177.47 L68.53 176.55 L68.76 175.63 L69.00 174.71 L69.24 173.79 L69.47 172.87 L69.71 171.95 L69.95 171.03 L70.19 170.11 L70.43 169.20 L70.67 168.28 L70.91 167.36 L71.15 166.44 L71.40 165.52 L71.64 164.61 L71.88 163.69 L72.13 162.77 L72.37 161.86 L72.61 160.94 L72.86 160.02 L73.11 159.11 L73.35 158.19 L73.60 157.28 L73.85 156.36 L74.10 155.45 L74.35 154.54 L74.59 153.62 L74.84 152.71 L75.10 151.79 L75.35 150.88 L75.60 149.97 L75.85 149.05 L76.10 148.14 L76.36 147.23 L76.61 146.32 L76.86 145.40 L77.12 144.49 L77.37 143.58 L77.63 142.67 L77.88 141.76 L78.14 140.85 L78.40 139.94 L78.66 139.03 L78.91 138.12 L79.17 137.20 L79.43 136.29 L79.69 135.38 L79.95 134.47 L80.21 133.56 L80.47 132.66 L80.73 131.75 L81.00 130.84 L81.26 129.93 L81.52 129.02 L81.79 128.11 L82.05 127.20 L82.31 126.29 L82.58 125.38 L82.84 124.48 L83.11 123.57 L83.38 122.66 L83.64 121.75 L83.91 120.84 L84.18 119.94 L84.45 119.03 L84.71 118.12 L84.98 117.21 L85.25 116.31 L85.52 115.40 L85.79 114.49 L86.06 113.59 L86.33 112.68 L86.61 111.77 L86.88 110.87 L87.15 109.96 L87.42 109.05 L87.70 108.15 L87.97 107.24 L88.24 106.33 L88.52 105.43 L88.79 104.52 L89.07 103.61 L89.35 102.71 L89.62 101.80 L89.90 100.89 L90.17 99.99 L90.45 99.08 L90.73 98.18 L91.01 97.27 L91.29 96.36 L91.57 95.46 L91.85 94.55 L92.13 93.65 L92.41 92.74 L92.69 91.83 L92.97 90.93 L93.25 90.02 L93.53 89.12 L93.81 88.21 L94.09 87.30 L94.38 86.40 L94.66 85.49 L94.94 84.59 L95.23 83.68 L95.51 82.77 L95.80 81.87 L96.08 80.96 L96.37 80.05 L96.65 79.15 L96.94 78.24 L97.22 77.34 L97.51 76.43 L97.80 75.52 L98.09 74.62 L98.37 73.71 L98.66 72.81 L98.95 71.90 L99.24 70.99 L99.53 70.09 L99.82 69.18 L100.12 68.28 L100.41 67.38 L100.70 66.47 L100.99 65.57 L101.29 64.67 L101.58 63.76 L101.88 62.86 L102.17 61.96 L102.47 61.06 L102.77 60.16 L103.07 59.26 L103.36 58.36 L103.66 57.47 L103.97 56.57 L104.27 55.67 L104.57 54.78 L104.87 53.88 L105.18 52.99 L105.48 52.10 L105.79 51.20 L106.10 50.31 L106.40 49.42 L106.71 48.53 L107.02 47.65 L107.33 46.76 L107.65 45.87 L107.96 44.99 L108.27 44.11 L108.59 43.22 L108.91 42.34 L109.23 41.47 L109.56 40.59 L109.89 39.71 L110.22 38.84 L110.57 37.97 L110.91 37.10 L111.27 36.23 L111.63 35.37 L112.00 34.51 L112.38 33.65 L112.77 32.79 L113.17 31.94 L113.58 31.09 L114.00 30.24 L114.43 29.40 L114.88 28.55 L115.34 27.72 L115.81 26.88 L116.30 26.05 L116.80 25.23 L117.32 24.40 L117.85 23.59 L118.41 22.77 L118.98 21.96 L119.56 21.16 L120.17 20.37 L120.79 19.58 L121.43 18.81 L122.08 18.05 L122.75 17.31 L123.43 16.58 L124.13 15.87 L124.84 15.19 L125.57 14.53 L126.31 13.89 L127.07 13.28 L127.83 12.70 L128.61 12.15 L129.41 11.63 L130.21 11.15 L131.03 10.70 L131.85 10.29 L132.69 9.92 L133.54 9.59 L134.40 9.31 L135.27 9.07 L136.14 8.88 L137.03 8.73 L137.92 8.63 L138.82 8.57 L139.73 8.55 L140.64 8.57 L141.55 8.63 L142.47 8.73 L143.39 8.86 L144.31 9.02 L145.23 9.22 L146.14 9.44 L147.06 9.70 L147.98 9.99 L148.89 10.30 L149.79 10.63 L150.69 10.99 L151.59 11.37 L152.47 11.77 L153.35 12.20 L154.22 12.63 L155.08 13.09 L155.93 13.56 L156.77 14.04 L157.59 14.54 L158.40 15.05 L159.21 15.57 L160.00 16.10 L160.78 16.65 L161.55 17.20 L162.31 17.77 L163.07 18.34 L163.81 18.93 L164.55 19.52 L165.27 20.13 L165.99 20.74 L166.70 21.36 L167.41 21.99 L168.11 22.63 L168.80 23.27 L169.48 23.92 L170.16 24.58 L170.83 25.24 L171.50 25.91 L172.17 26.59 L172.83 27.26 L173.48 27.95 L174.13 28.64 L174.78 29.33 L175.43 30.02 L176.07 30.72 L176.71 31.42 L177.35 32.13 L177.98 32.83 L178.62 33.54 L179.25 34.24 L179.89 34.95 L180.52 35.66 L181.16 36.37 L181.79 37.08 L182.42 37.79 L183.06 38.49 L183.70 39.20 L184.34 39.90 L184.98 40.60 L185.62 41.30 L186.27 42.00 L186.91 42.69 L187.56 43.38 L188.22 44.07 L188.87 44.76 L189.53 45.45 L190.18 46.13 L190.84 46.81 L191.50 47.49 L192.17 48.17 L192.83 48.85 L193.50 49.52 L194.16 50.20 L194.83 50.87 L195.50 51.54 L196.17 52.21 L196.85 52.87 L197.52 53.54 L198.19 54.21 L198.87 54.87 L199.55 55.53 L200.22 56.20 L200.90 56.86 L201.58 57.52 L202.26 58.18 L202.94 58.84 L203.63 59.50 L204.31 60.15 L204.99 60.81 L205.67 61.47 L206.36 62.12 L207.04 62.78 L207.73 63.44 L208.41 64.09 L209.09 64.75 L209.78 65.40 L210.46 66.06 L211.15 66.71 L211.83 67.37 L212.52 68.02 L213.20 68.68 L213.89 69.33 L214.57 69.99 L215.26 70.65 L215.94 71.30 L216.62 71.96 L217.30 72.62 L217.99 73.28 L218.67 73.94 L219.35 74.60 L220.03 75.26 L220.70 75.92 L221.38 76.58 L222.06 77.24 L222.74 77.91 L223.41 78.57 L224.09 79.23 L224.77 79.90 L225.44 80.56 L226.12 81.23 L226.80 81.89 L227.47 82.55 L228.15 83.22 L228.83 83.88 L229.51 84.54 L230.18 85.20 L230.86 85.86 L231.54 86.52 L232.22 87.18 L232.91 87.84 L233.59 88.50 L234.28 89.15 L234.96 89.80 L235.65 90.46 L236.34 91.11 L237.03 91.75 L237.72 92.40 L238.42 93.04 L239.11 93.69 L239.81 94.33 L240.51 94.96 L241.21 95.60 L241.92 96.23 L242.63 96.86 L243.34 97.49 L244.05 98.11 L244.76 98.73 L245.48 99.35 L246.20 99.97 L246.92 100.58 L247.64 101.19 L248.37 101.80 L249.09 102.41 L249.82 103.01 L250.56 103.62 L251.29 104.21 L252.03 104.81 L252.76 105.40 L253.50 106.00 L254.25 106.58 L254.99 107.17 L255.74 107.75 L256.49 108.33 L257.24 108.91 L257.99 109.49 L258.74 110.06 L259.50 110.63 L260.26 111.20 L261.02 111.77 L261.78 112.33 L262.55 112.89 L263.31 113.45 L264.08 114.00 L264.85 114.55 L265.62 115.10 L266.40 115.65 L267.17 116.20 L267.95 116.74 L268.73 117.28 L269.51 117.81 L270.30 118.35 L271.08 118.88 L271.87 119.41 L272.66 119.94 L273.45 120.46 L274.24 120.98 L275.03 121.50 L275.83 122.02 L276.62 122.53 L277.42 123.04 L278.22 123.55 L279.03 124.06 L279.83 124.56 L280.64 125.06 L281.44 125.56 L282.25 126.06 L283.06 126.55 L283.87 127.04 L284.69 127.53 L285.50 128.01 L286.32 128.50 L287.14 128.98 L287.95 129.45 L288.78 129.93 L289.60 130.40 L290.42 130.87 L291.25 131.34 L292.07 131.80 L292.90 132.26 L293.73 132.72 L294.56 133.18 L295.40 133.64 L296.23 134.09 L297.06 134.54 L297.90 134.98 L298.74 135.43 L299.58 135.87 L300.42 136.31 L301.26 136.74 L302.10 137.18 L302.95 137.61 L303.79 138.03 L304.64 138.46 L305.49 138.88 L306.34 139.30 L307.19 139.72 L308.04 140.14 L308.89 140.55 L309.75 140.96 L310.60 141.37 L311.46 141.77 L312.32 142.17 L313.17 142.57 L314.03 142.97 L314.89 143.36 L315.76 143.76 L316.62 144.15 L317.48 144.53 L318.35 144.92 L319.21 145.30 L320.08 145.68 L320.95 146.05 L321.82 146.43 L322.69 146.80" stroke="#000" stroke-width="1.2"/>
</g>
<g stroke="#000" stroke-width="1" fill="none">
<rect x="50.00" y="3.00" width="272.50" height="218.50"/>
<line x1="50.00" y1="221.50" x2="50.00" y2="225.10"/>
<line x1="72.71" y1="221.50" x2="72.71" y2="223.50"/>
<line x1="95.42" y1="221.50" x2="95.42" y2="225.10"/>
<line x1="118.12" y1="221.50" x2="118.12" y2="223.50"/>
<line x1="140.83" y1="221.50" x2="140.83" y2="225.10"/>
<line x1="163.54" y1="221.50" x2="163.54" y2="223.50"/>
<line x1="186.25" y1="221.50" x2="186.25" y2="225.10"/>
<line x1="208.96" y1="221.50" x2="208.96" y2="223.50"/>
<line x1="231.66" y1="221.50" x2="231.66" y2="225.10"/>
<line x1="254.37" y1="221.50" x2="254.37" y2="223.50"/>
<line x1="277.08" y1="221.50" x2="277.08" y2="225.10"/>
<line x1="299.79" y1="221.50" x2="299.79" y2="223.50"/>
<line x1="322.50" y1="221.50" x2="322.50" y2="225.10"/>
<line x1="45.70" y1="221.50" x2="50.00" y2="221.50"/>
<line x1="47.60" y1="190.28" x2="50.00" y2="190.28"/>
<line x1="45.70" y1="159.07" x2="50.00" y2="159.07"/>
<line x1="47.60" y1="127.85" x2="50.00" y2="127.85"/>
<line x1="45.70" y1="96.64" x2="50.00" y2="96.64"/>
<line x1="47.60" y1="65.43" x2="50.00" y2="65.43"/>
<line x1="45.70" y1="34.21" x2="50.00" y2="34.21"/>
<line x1="47.60" y1="3.00" x2="50.00" y2="3.00"/>
</g>
<g font-size="13" fill="#000">
<text x="50.30" y="238.6" text-anchor="middle">0.0</text>
<text x="95.72" y="238.6" text-anchor="middle">0.2</text>
<text x="141.13" y="238.6" text-anchor="middle">0.4</text>
<text x="186.55" y="238.6" text-anchor="middle">0.6</text>
<text x="231.96" y="238.6" text-anchor="middle">0.8</text>
<text x="277.38" y="238.6" text-anchor="middle">1.0</text>
<text x="322.80" y="238.6" text-anchor="middle">1.2</text>
<text x="42.8" y="225.10" text-anchor="end">0.0</text>
<text x="42.8" y="162.67" text-anchor="end">0.1</text>
<text x="42.8" y="100.24" text-anchor="end">0.2</text>
<text x="42.8" y="37.81" text-anchor="end">0.3</text>
</g>
<g class="s" font-style="italic"><text class="s" x="175" y="256.3" font-size="14.5">k<tspan font-style="normal" font-size="10.5" dy="4">B</tspan><tspan dy="-4" dx="0.5">T</tspan></text>
<text class="s" transform="translate(10.9,131.3) rotate(-90)" font-size="14.5"><tspan x="0">c</tspan><tspan x="7.6">/</tspan><tspan x="13.3">k</tspan><tspan x="19.8" y="5.2" font-style="normal" font-size="10">B</tspan></text></g>
<g font-size="12" letter-spacing="-0.45">
<text x="96.8" y="24.5"><tspan font-style="italic">h</tspan>=0</text>
<text x="131.6" y="32.9" fill="#f0f"><tspan font-style="italic">h=J</tspan><tspan font-size="9" dy="-1.5">_</tspan></text>
<text x="223.7" y="45.6" fill="#f00"><tspan font-style="italic">h</tspan>=1.5</text>
<text x="289" y="92" fill="#000"><tspan font-style="italic">h=J</tspan><tspan font-size="9" dx="1.2" dy="3.8">+</tspan></text>
<text x="298.3" y="116.6" fill="#00f" font-size="11.8" letter-spacing="-0.8"><tspan font-style="italic">h</tspan>=1</text>
</g>
<rect x="273.8" y="3.6" width="50.9" height="48.9" fill="#000"/>
<rect x="271" y="2.2" width="49" height="46.4" fill="#fff" stroke="#000" stroke-width="1.2"/>
<g class="s" font-size="11">
<text class="s" y="15.5"><tspan x="274.4" font-style="italic" font-size="12.5">θ</tspan><tspan x="282.6">=</tspan><tspan x="292.3" font-size="13" font-style="italic">π</tspan><tspan x="297.9">/</tspan><tspan x="300.2">8</tspan></text>
<text class="s" y="28.9"><tspan x="274.2" font-style="italic" font-size="13.5">φ</tspan><tspan x="281.2" y="32.8" font-size="8">E</tspan><tspan x="286.4" y="28.9">=</tspan><tspan x="294.8" font-size="13" font-style="italic">π</tspan><tspan x="300">/</tspan><tspan x="302.2">16</tspan></text>
<text class="s" y="47.1"><tspan x="274" font-style="italic" font-size="12">E</tspan><tspan x="281.4" style="font-family:'Liberation Sans',sans-serif" font-size="12">=</tspan><tspan x="287.6" style="font-family:'Liberation Sans',sans-serif" font-size="12">2</tspan></text>
</g>
<rect x="170.20" y="124.10" width="88.00" height="72.30" fill="#fff"/>
<g clip-path="url(#ci)" fill="none">
<path d="M169.77 196.21 L169.79 195.99 L169.82 195.76 L169.84 195.53 L169.87 195.31 L169.89 195.09 L169.93 194.87 L169.96 194.65 L170.00 194.43 L170.03 194.21 L170.07 194.00 L170.12 193.79 L170.16 193.57 L170.21 193.36 L170.26 193.15 L170.31 192.95 L170.37 192.74 L170.42 192.53 L170.48 192.33 L170.54 192.13 L170.60 191.93 L170.67 191.73 L170.74 191.53 L170.80 191.33 L170.88 191.13 L170.95 190.94 L171.02 190.75 L171.10 190.55 L171.18 190.36 L171.26 190.17 L171.34 189.98 L171.43 189.80 L171.51 189.61 L171.60 189.43 L171.69 189.24 L171.78 189.06 L171.88 188.88 L171.97 188.70 L172.07 188.52 L172.17 188.34 L172.27 188.16 L172.37 187.99 L172.48 187.81 L172.58 187.64 L172.69 187.47 L172.80 187.30 L172.91 187.13 L173.02 186.96 L173.14 186.79 L173.25 186.62 L173.37 186.45 L173.49 186.29 L173.61 186.12 L173.73 185.96 L173.85 185.80 L173.97 185.64 L174.10 185.48 L174.23 185.32 L174.35 185.16 L174.48 185.00 L174.61 184.85 L174.75 184.69 L174.88 184.54 L175.01 184.38 L175.15 184.23 L175.29 184.08 L175.43 183.93 L175.56 183.78 L175.70 183.63 L175.85 183.48 L175.99 183.33 L176.13 183.18 L176.28 183.04 L176.42 182.89 L176.57 182.75 L176.72 182.60 L176.87 182.46 L177.02 182.32 L177.17 182.18 L177.32 182.03 L177.47 181.89 L177.63 181.76 L177.78 181.62 L177.94 181.48 L178.09 181.34 L178.25 181.20 L178.41 181.07 L178.56 180.93 L178.72 180.80 L178.88 180.66 L179.04 180.53 L179.21 180.40 L179.37 180.27 L179.53 180.13 L179.69 180.00 L179.86 179.87 L180.02 179.74 L180.19 179.61 L180.35 179.49 L180.52 179.36 L180.68 179.23 L180.85 179.10 L181.02 178.98 L181.19 178.85 L181.36 178.72 L181.52 178.60 L181.69 178.48 L181.87 178.35 L182.04 178.23 L182.21 178.11 L182.38 177.98 L182.55 177.86 L182.72 177.74 L182.90 177.62 L183.07 177.50 L183.25 177.38 L183.42 177.26 L183.60 177.14 L183.77 177.02 L183.95 176.91 L184.13 176.79 L184.30 176.67 L184.48 176.55 L184.66 176.44 L184.84 176.32 L185.02 176.21 L185.20 176.09 L185.38 175.98 L185.56 175.87 L185.74 175.75 L185.92 175.64 L186.10 175.53 L186.28 175.42 L186.46 175.30 L186.64 175.19 L186.83 175.08 L187.01 174.97 L187.19 174.86 L187.38 174.75 L187.56 174.64 L187.75 174.54 L187.93 174.43 L188.12 174.32 L188.30 174.21 L188.49 174.11 L188.67 174.00 L188.86 173.89 L189.05 173.79 L189.23 173.68 L189.42 173.58 L189.61 173.47 L189.80 173.37 L189.99 173.26 L190.17 173.16 L190.36 173.06 L190.55 172.95 L190.74 172.85 L190.93 172.75 L191.12 172.65 L191.31 172.54 L191.50 172.44 L191.69 172.34 L191.88 172.24 L192.07 172.14 L192.26 172.04 L192.45 171.94 L192.65 171.84 L192.84 171.74 L193.03 171.64 L193.22 171.54 L193.41 171.45 L193.61 171.35 L193.80 171.25 L193.99 171.15 L194.18 171.06 L194.38 170.96 L194.57 170.86 L194.76 170.77 L194.96 170.67 L195.15 170.57 L195.34 170.48 L195.54 170.38 L195.73 170.29 L195.92 170.19 L196.12 170.10 L196.31 170.00 L196.51 169.91 L196.70 169.81 L196.89 169.72 L197.09 169.63 L197.28 169.53 L197.48 169.44 L197.67 169.35 L197.86 169.25 L198.06 169.16 L198.25 169.07 L198.45 168.98 L198.64 168.88 L198.84 168.79 L199.03 168.70 L199.23 168.61 L199.42 168.52 L199.62 168.43 L199.81 168.34 L200.00 168.24 L200.20 168.15 L200.39 168.06 L200.59 167.97 L200.78 167.88 L200.98 167.79 L201.17 167.70 L201.37 167.61 L201.56 167.52 L201.75 167.43 L201.95 167.34 L202.14 167.25 L202.34 167.16 L202.53 167.08 L202.72 166.99 L202.92 166.90 L203.11 166.81 L203.31 166.72 L203.50 166.63 L203.69 166.54 L203.89 166.46 L204.08 166.37 L204.28 166.28 L204.47 166.19 L204.66 166.11 L204.86 166.02 L205.05 165.93 L205.25 165.84 L205.44 165.76 L205.63 165.67 L205.83 165.58 L206.02 165.50 L206.22 165.41 L206.41 165.32 L206.60 165.24 L206.80 165.15 L206.99 165.07 L207.18 164.98 L207.38 164.89 L207.57 164.81 L207.76 164.72 L207.96 164.64 L208.15 164.55 L208.35 164.47 L208.54 164.38 L208.73 164.30 L208.93 164.21 L209.12 164.13 L209.31 164.05 L209.51 163.96 L209.70 163.88 L209.89 163.79 L210.09 163.71 L210.28 163.63 L210.48 163.54 L210.67 163.46 L210.86 163.38 L211.06 163.29 L211.25 163.21 L211.44 163.13 L211.64 163.04 L211.83 162.96 L212.02 162.88 L212.22 162.80 L212.41 162.71 L212.60 162.63 L212.80 162.55 L212.99 162.47 L213.19 162.39 L213.38 162.30 L213.57 162.22 L213.77 162.14 L213.96 162.06 L214.15 161.98 L214.35 161.90 L214.54 161.82 L214.73 161.73 L214.93 161.65 L215.12 161.57 L215.32 161.49 L215.51 161.41 L215.70 161.33 L215.90 161.25 L216.09 161.17 L216.28 161.09 L216.48 161.01 L216.67 160.93 L216.86 160.85 L217.06 160.77 L217.25 160.69 L217.45 160.61 L217.64 160.53 L217.83 160.45 L218.03 160.38 L218.22 160.30 L218.41 160.22 L218.61 160.14 L218.80 160.06 L219.00 159.98 L219.19 159.90 L219.38 159.82 L219.58 159.75 L219.77 159.67 L219.97 159.59 L220.16 159.51 L220.35 159.43 L220.55 159.36 L220.74 159.28 L220.94 159.20 L221.13 159.12 L221.32 159.05 L221.52 158.97 L221.71 158.89 L221.91 158.81 L222.10 158.74 L222.29 158.66 L222.49 158.58 L222.68 158.51 L222.88 158.43 L223.07 158.35 L223.27 158.28 L223.46 158.20 L223.65 158.12 L223.85 158.05 L224.04 157.97 L224.24 157.89 L224.43 157.82 L224.63 157.74 L224.82 157.67 L225.02 157.59 L225.21 157.52 L225.41 157.44 L225.60 157.36 L225.79 157.29 L225.99 157.21 L226.18 157.14 L226.38 157.06 L226.57 156.99 L226.77 156.91 L226.96 156.84 L227.16 156.76 L227.35 156.69 L227.55 156.61 L227.74 156.54 L227.94 156.46 L228.13 156.39 L228.33 156.32 L228.52 156.24 L228.72 156.17 L228.92 156.09 L229.11 156.02 L229.31 155.94 L229.50 155.87 L229.70 155.80 L229.89 155.72 L230.09 155.65 L230.28 155.58 L230.48 155.50 L230.68 155.43 L230.87 155.36 L231.07 155.28 L231.26 155.21 L231.46 155.14 L231.65 155.06 L231.85 154.99 L232.05 154.92 L232.24 154.84 L232.44 154.77 L232.63 154.70 L232.83 154.62 L233.03 154.55 L233.22 154.48 L233.42 154.41 L233.62 154.33 L233.81 154.26 L234.01 154.19 L234.21 154.12 L234.40 154.04 L234.60 153.97 L234.80 153.90 L234.99 153.83 L235.19 153.76 L235.39 153.68 L235.58 153.61 L235.78 153.54 L235.98 153.47 L236.17 153.40 L236.37 153.33 L236.57 153.25 L236.77 153.18 L236.96 153.11 L237.16 153.04 L237.36 152.97 L237.56 152.90 L237.75 152.83 L237.95 152.75 L238.15 152.68 L238.35 152.61 L238.54 152.54 L238.74 152.47 L238.94 152.40 L239.14 152.33 L239.34 152.26 L239.53 152.19 L239.73 152.11 L239.93 152.04 L240.13 151.97 L240.33 151.90 L240.53 151.83 L240.73 151.76 L240.92 151.69 L241.12 151.62 L241.32 151.55 L241.52 151.48 L241.72 151.41 L241.92 151.34 L242.12 151.27 L242.32 151.20 L242.52 151.13 L242.71 151.06 L242.91 150.99 L243.11 150.92 L243.31 150.85 L243.51 150.78 L243.71 150.71 L243.91 150.64 L244.11 150.57 L244.31 150.50 L244.51 150.43 L244.71 150.36 L244.91 150.29 L245.11 150.22 L245.31 150.15 L245.51 150.08 L245.71 150.01 L245.91 149.94 L246.11 149.87 L246.31 149.80 L246.52 149.73 L246.72 149.66 L246.92 149.59 L247.12 149.52 L247.32 149.45 L247.52 149.38 L247.72 149.31 L247.92 149.25 L248.12 149.18 L248.33 149.11 L248.53 149.04 L248.73 148.97 L248.93 148.90 L249.13 148.83 L249.33 148.76 L249.54 148.69 L249.74 148.62 L249.94 148.55 L250.14 148.48 L250.35 148.42 L250.55 148.35 L250.75 148.28 L250.95 148.21 L251.16 148.14 L251.36 148.07 L251.56 148.00 L251.77 147.93 L251.97 147.86 L252.17 147.79 L252.38 147.73 L252.58 147.66 L252.78 147.59 L252.99 147.52 L253.19 147.45 L253.39 147.38 L253.60 147.31 L253.80 147.24 L254.01 147.18 L254.21 147.11 L254.41 147.04 L254.62 146.97 L254.82 146.90 L255.03 146.83 L255.23 146.76 L255.44 146.69 L255.64 146.63 L255.85 146.56 L256.05 146.49 L256.26 146.42 L256.46 146.35 L256.67 146.28 L256.87 146.21 L257.08 146.14 L257.28 146.08 L257.49 146.01 L257.70 145.94 L257.90 145.87 L258.11 145.80" stroke="#000" stroke-width="1.3" stroke-dasharray="3 2"/>
<path d="M169.95 196.36 L170.08 196.23 L170.21 196.10 L170.35 195.96 L170.48 195.83 L170.61 195.70 L170.74 195.56 L170.87 195.43 L171.00 195.29 L171.13 195.16 L171.25 195.03 L171.38 194.89 L171.51 194.76 L171.64 194.62 L171.77 194.49 L171.90 194.35 L172.03 194.22 L172.16 194.08 L172.29 193.95 L172.42 193.81 L172.55 193.68 L172.67 193.54 L172.80 193.41 L172.93 193.27 L173.06 193.14 L173.19 193.00 L173.32 192.87 L173.44 192.73 L173.57 192.60 L173.70 192.46 L173.83 192.33 L173.95 192.19 L174.08 192.05 L174.21 191.92 L174.34 191.78 L174.46 191.65 L174.59 191.51 L174.72 191.37 L174.85 191.24 L174.97 191.10 L175.10 190.96 L175.23 190.83 L175.35 190.69 L175.48 190.55 L175.61 190.42 L175.73 190.28 L175.86 190.14 L175.98 190.01 L176.11 189.87 L176.24 189.73 L176.36 189.59 L176.49 189.46 L176.61 189.32 L176.74 189.18 L176.86 189.04 L176.99 188.91 L177.12 188.77 L177.24 188.63 L177.37 188.49 L177.49 188.36 L177.62 188.22 L177.74 188.08 L177.87 187.94 L177.99 187.80 L178.12 187.66 L178.24 187.53 L178.36 187.39 L178.49 187.25 L178.61 187.11 L178.74 186.97 L178.86 186.83 L178.99 186.69 L179.11 186.56 L179.23 186.42 L179.36 186.28 L179.48 186.14 L179.60 186.00 L179.73 185.86 L179.85 185.72 L179.98 185.58 L180.10 185.44 L180.22 185.30 L180.35 185.16 L180.47 185.02 L180.59 184.88 L180.71 184.74 L180.84 184.61 L180.96 184.47 L181.08 184.33 L181.21 184.19 L181.33 184.05 L181.45 183.91 L181.57 183.77 L181.69 183.62 L181.82 183.48 L181.94 183.34 L182.06 183.20 L182.18 183.06 L182.31 182.92 L182.43 182.78 L182.55 182.64 L182.67 182.50 L182.79 182.36 L182.91 182.22 L183.04 182.08 L183.16 181.94 L183.28 181.80 L183.40 181.66 L183.52 181.51 L183.64 181.37 L183.76 181.23 L183.88 181.09 L184.00 180.95 L184.13 180.81 L184.25 180.67 L184.37 180.52 L184.49 180.38 L184.61 180.24 L184.73 180.10 L184.85 179.96 L184.97 179.82 L185.09 179.67 L185.21 179.53 L185.33 179.39 L185.45 179.25 L185.57 179.11 L185.69 178.96 L185.81 178.82 L185.93 178.68 L186.05 178.54 L186.17 178.39 L186.29 178.25 L186.41 178.11 L186.53 177.97 L186.65 177.82 L186.76 177.68 L186.88 177.54 L187.00 177.40 L187.12 177.25 L187.24 177.11 L187.36 176.97 L187.48 176.82 L187.60 176.68 L187.72 176.54 L187.84 176.39 L187.95 176.25 L188.07 176.11 L188.19 175.96 L188.31 175.82 L188.43 175.68 L188.55 175.53 L188.66 175.39 L188.78 175.25 L188.90 175.10 L189.02 174.96 L189.14 174.82 L189.25 174.67 L189.37 174.53 L189.49 174.38 L189.61 174.24 L189.73 174.10 L189.84 173.95 L189.96 173.81 L190.08 173.66 L190.20 173.52 L190.31 173.37 L190.43 173.23 L190.55 173.09 L190.66 172.94 L190.78 172.80 L190.90 172.65 L191.02 172.51 L191.13 172.36 L191.25 172.22 L191.37 172.07 L191.48 171.93 L191.60 171.78 L191.72 171.64 L191.83 171.49 L191.95 171.35 L192.07 171.20 L192.18 171.06 L192.30 170.91 L192.42 170.77 L192.53 170.62 L192.65 170.48 L192.76 170.33 L192.88 170.19 L193.00 170.04 L193.11 169.90 L193.23 169.75 L193.34 169.61 L193.46 169.46 L193.58 169.32 L193.69 169.17 L193.81 169.02 L193.92 168.88 L194.04 168.73 L194.15 168.59 L194.27 168.44 L194.39 168.30 L194.50 168.15 L194.62 168.00 L194.73 167.86 L194.85 167.71 L194.96 167.57 L195.08 167.42 L195.19 167.27 L195.31 167.13 L195.42 166.98 L195.54 166.84 L195.65 166.69 L195.77 166.54 L195.88 166.40 L196.00 166.25 L196.11 166.10 L196.23 165.96 L196.34 165.81 L196.45 165.66 L196.57 165.52 L196.68 165.37 L196.80 165.22 L196.91 165.08 L197.03 164.93 L197.14 164.78 L197.26 164.64 L197.37 164.49 L197.48 164.34 L197.60 164.20 L197.71 164.05 L197.83 163.90 L197.94 163.76 L198.05 163.61 L198.17 163.46 L198.28 163.31 L198.40 163.17 L198.51 163.02 L198.62 162.87 L198.74 162.73 L198.85 162.58 L198.96 162.43 L199.08 162.28 L199.19 162.14 L199.31 161.99 L199.42 161.84 L199.53 161.69 L199.65 161.55 L199.76 161.40 L199.87 161.25 L199.99 161.10 L200.10 160.96 L200.21 160.81 L200.33 160.66 L200.44 160.51 L200.55 160.37 L200.66 160.22 L200.78 160.07 L200.89 159.92 L201.00 159.77 L201.12 159.63 L201.23 159.48 L201.34 159.33 L201.45 159.18 L201.57 159.03 L201.68 158.89 L201.79 158.74 L201.91 158.59 L202.02 158.44 L202.13 158.29 L202.24 158.15 L202.36 158.00 L202.47 157.85 L202.58 157.70 L202.69 157.55 L202.81 157.40 L202.92 157.26 L203.03 157.11 L203.14 156.96 L203.26 156.81 L203.37 156.66 L203.48 156.51 L203.59 156.36 L203.70 156.22 L203.82 156.07 L203.93 155.92 L204.04 155.77 L204.15 155.62 L204.26 155.47 L204.38 155.32 L204.49 155.18 L204.60 155.03 L204.71 154.88 L204.82 154.73 L204.94 154.58 L205.05 154.43 L205.16 154.28 L205.27 154.13 L205.38 153.99 L205.50 153.84 L205.61 153.69 L205.72 153.54 L205.83 153.39 L205.94 153.24 L206.05 153.09 L206.16 152.94 L206.28 152.79 L206.39 152.65 L206.50 152.50 L206.61 152.35 L206.72 152.20 L206.83 152.05 L206.95 151.90 L207.06 151.75 L207.17 151.60 L207.28 151.45 L207.39 151.30 L207.50 151.15 L207.61 151.01 L207.72 150.86 L207.84 150.71 L207.95 150.56 L208.06 150.41 L208.17 150.26 L208.28 150.11 L208.39 149.96 L208.50 149.81 L208.61 149.66 L208.73 149.51 L208.84 149.36 L208.95 149.21 L209.06 149.06 L209.17 148.91 L209.28 148.77 L209.39 148.62 L209.50 148.47 L209.61 148.32 L209.72 148.17 L209.84 148.02 L209.95 147.87 L210.06 147.72 L210.17 147.57 L210.28 147.42 L210.39 147.27 L210.50 147.12 L210.61 146.97 L210.72 146.82 L210.83 146.67 L210.94 146.52 L211.05 146.37 L211.17 146.22 L211.28 146.07 L211.39 145.92 L211.50 145.77 L211.61 145.62 L211.72 145.47 L211.83 145.32 L211.94 145.18 L212.05 145.03 L212.16 144.88 L212.27 144.73 L212.38 144.58 L212.49 144.43 L212.60 144.28 L212.72 144.13 L212.83 143.98 L212.94 143.83 L213.05 143.68 L213.16 143.53 L213.27 143.38 L213.38 143.23 L213.49 143.08 L213.60 142.93 L213.71 142.78 L213.82 142.63 L213.93 142.48 L214.04 142.33 L214.15 142.18 L214.26 142.03 L214.37 141.88 L214.48 141.73 L214.59 141.58 L214.70 141.43 L214.82 141.28 L214.93 141.13 L215.04 140.98 L215.15 140.83 L215.26 140.68 L215.37 140.53 L215.48 140.38 L215.59 140.23 L215.70 140.08 L215.81 139.93 L215.92 139.78 L216.03 139.63 L216.14 139.48 L216.25 139.33 L216.36 139.18 L216.47 139.03 L216.58 138.88 L216.69 138.73 L216.80 138.58 L216.91 138.43 L217.03 138.28 L217.14 138.13 L217.25 137.98 L217.36 137.83 L217.47 137.68 L217.58 137.53 L217.69 137.38 L217.80 137.23 L217.91 137.09 L218.02 136.94 L218.13 136.79 L218.24 136.64 L218.35 136.49 L218.46 136.34 L218.57 136.19 L218.68 136.04 L218.79 135.89 L218.90 135.74 L219.01 135.59 L219.12 135.44 L219.24 135.29 L219.35 135.14 L219.46 134.99 L219.57 134.84 L219.68 134.69 L219.79 134.54 L219.90 134.39 L220.01 134.24 L220.12 134.09 L220.23 133.94 L220.34 133.79 L220.45 133.64 L220.56 133.49 L220.67 133.34 L220.78 133.19 L220.89 133.04 L221.00 132.89 L221.12 132.74 L221.23 132.59 L221.34 132.44 L221.45 132.29 L221.56 132.14 L221.67 131.99 L221.78 131.84 L221.89 131.70 L222.00 131.55 L222.11 131.40 L222.22 131.25 L222.33 131.10 L222.44 130.95 L222.56 130.80 L222.67 130.65 L222.78 130.50 L222.89 130.35 L223.00 130.20 L223.11 130.05 L223.22 129.90 L223.33 129.75 L223.44 129.60 L223.55 129.45 L223.66 129.30 L223.78 129.15 L223.89 129.01 L224.00 128.86 L224.11 128.71 L224.22 128.56 L224.33 128.41 L224.44 128.26 L224.55 128.11 L224.66 127.96 L224.78 127.81 L224.89 127.66 L225.00 127.51 L225.11 127.36 L225.22 127.21 L225.33 127.07 L225.44 126.92 L225.55 126.77 L225.67 126.62 L225.78 126.47 L225.89 126.32 L226.00 126.17 L226.11 126.02 L226.22 125.87 L226.33 125.72 L226.45 125.57 L226.56 125.43 L226.67 125.28 L226.78 125.13 L226.89 124.98 L227.00 124.83 L227.12 124.68 L227.23 124.53 L227.34 124.38 L227.45 124.24 L227.56 124.09 L227.67 123.94 L227.79 123.79" stroke="#00f" stroke-width="1.8" stroke-dasharray="0.5 2.5" stroke-linecap="round"/>
<path d="M169.97 196.26 L170.16 196.18 L170.35 196.10 L170.54 196.02 L170.73 195.94 L170.92 195.86 L171.11 195.78 L171.29 195.70 L171.48 195.62 L171.67 195.54 L171.86 195.46 L172.05 195.38 L172.24 195.30 L172.43 195.22 L172.61 195.14 L172.80 195.06 L172.99 194.98 L173.18 194.90 L173.37 194.82 L173.56 194.74 L173.75 194.66 L173.94 194.58 L174.13 194.50 L174.32 194.42 L174.51 194.34 L174.69 194.26 L174.88 194.18 L175.07 194.10 L175.26 194.02 L175.45 193.94 L175.64 193.86 L175.83 193.78 L176.02 193.71 L176.21 193.63 L176.40 193.55 L176.59 193.47 L176.78 193.39 L176.97 193.31 L177.16 193.23 L177.35 193.15 L177.54 193.07 L177.73 192.99 L177.92 192.91 L178.11 192.83 L178.30 192.75 L178.49 192.67 L178.68 192.59 L178.87 192.51 L179.05 192.43 L179.24 192.36 L179.43 192.28 L179.62 192.20 L179.81 192.12 L180.00 192.04 L180.19 191.96 L180.38 191.88 L180.57 191.80 L180.76 191.72 L180.95 191.64 L181.14 191.56 L181.33 191.48 L181.52 191.40 L181.71 191.32 L181.90 191.24 L182.09 191.16 L182.28 191.08 L182.47 191.01 L182.66 190.93 L182.85 190.85 L183.04 190.77 L183.23 190.69 L183.43 190.61 L183.62 190.53 L183.81 190.45 L184.00 190.37 L184.19 190.29 L184.38 190.21 L184.57 190.13 L184.76 190.05 L184.95 189.97 L185.14 189.89 L185.33 189.81 L185.52 189.73 L185.71 189.65 L185.90 189.57 L186.09 189.49 L186.28 189.41 L186.47 189.33 L186.66 189.25 L186.85 189.17 L187.04 189.09 L187.23 189.01 L187.42 188.93 L187.61 188.85 L187.80 188.77 L187.99 188.69 L188.18 188.61 L188.37 188.53 L188.56 188.45 L188.75 188.37 L188.94 188.29 L189.13 188.21 L189.32 188.12 L189.51 188.04 L189.70 187.96 L189.89 187.88 L190.08 187.80 L190.27 187.72 L190.46 187.64 L190.65 187.56 L190.84 187.48 L191.03 187.40 L191.22 187.32 L191.41 187.23 L191.60 187.15 L191.79 187.07 L191.98 186.99 L192.17 186.91 L192.36 186.83 L192.54 186.75 L192.73 186.66 L192.92 186.58 L193.11 186.50 L193.30 186.42 L193.49 186.34 L193.68 186.26 L193.87 186.17 L194.06 186.09 L194.25 186.01 L194.44 185.93 L194.63 185.85 L194.82 185.76 L195.01 185.68 L195.20 185.60 L195.39 185.52 L195.58 185.43 L195.76 185.35 L195.95 185.27 L196.14 185.18 L196.33 185.10 L196.52 185.02 L196.71 184.94 L196.90 184.85 L197.09 184.77 L197.28 184.69 L197.47 184.60 L197.65 184.52 L197.84 184.44 L198.03 184.35 L198.22 184.27 L198.41 184.18 L198.60 184.10 L198.79 184.02 L198.97 183.93 L199.16 183.85 L199.35 183.76 L199.54 183.68 L199.73 183.60 L199.92 183.51 L200.11 183.43 L200.29 183.34 L200.48 183.26 L200.67 183.17 L200.86 183.09 L201.05 183.00 L201.23 182.92 L201.42 182.83 L201.61 182.75 L201.80 182.66 L201.98 182.58 L202.17 182.49 L202.36 182.41 L202.55 182.32 L202.73 182.23 L202.92 182.15 L203.11 182.06 L203.30 181.98 L203.48 181.89 L203.67 181.80 L203.86 181.72 L204.05 181.63 L204.23 181.54 L204.42 181.46 L204.61 181.37 L204.79 181.28 L204.98 181.19 L205.17 181.11 L205.35 181.02 L205.54 180.93 L205.73 180.84 L205.91 180.76 L206.10 180.67 L206.29 180.58 L206.47 180.49 L206.66 180.40 L206.84 180.32 L207.03 180.23 L207.22 180.14 L207.40 180.05 L207.59 179.96 L207.77 179.87 L207.96 179.78 L208.15 179.69 L208.33 179.61 L208.52 179.52 L208.70 179.43 L208.89 179.34 L209.07 179.25 L209.26 179.16 L209.44 179.07 L209.63 178.98 L209.81 178.89 L210.00 178.79 L210.18 178.70 L210.37 178.61 L210.55 178.52 L210.74 178.43 L210.92 178.34 L211.10 178.25 L211.29 178.16 L211.47 178.07 L211.66 177.97 L211.84 177.88 L212.02 177.79 L212.21 177.70 L212.39 177.61 L212.58 177.51 L212.76 177.42 L212.94 177.33 L213.13 177.23 L213.31 177.14 L213.49 177.05 L213.68 176.95 L213.86 176.86 L214.04 176.77 L214.23 176.67 L214.41 176.58 L214.59 176.49 L214.77 176.39 L214.96 176.30 L215.14 176.20 L215.32 176.11 L215.50 176.01 L215.68 175.92 L215.87 175.82 L216.05 175.73 L216.23 175.63 L216.41 175.54 L216.59 175.44 L216.77 175.34 L216.96 175.25 L217.14 175.15 L217.32 175.05 L217.50 174.96 L217.68 174.86 L217.86 174.76 L218.04 174.67 L218.22 174.57 L218.40 174.47 L218.58 174.37 L218.76 174.28 L218.94 174.18 L219.12 174.08 L219.30 173.98 L219.48 173.88 L219.66 173.78 L219.84 173.68 L220.02 173.59 L220.20 173.49 L220.38 173.39 L220.56 173.29 L220.74 173.19 L220.92 173.09 L221.10 172.99 L221.28 172.89 L221.46 172.79 L221.63 172.69 L221.81 172.58 L221.99 172.48 L222.17 172.38 L222.35 172.28 L222.53 172.18 L222.70 172.08 L222.88 171.97 L223.06 171.87 L223.24 171.77 L223.41 171.67 L223.59 171.56 L223.77 171.46 L223.94 171.36 L224.12 171.25 L224.30 171.15 L224.47 171.05 L224.65 170.94 L224.83 170.84 L225.00 170.73 L225.18 170.63 L225.35 170.52 L225.53 170.42 L225.71 170.31 L225.88 170.21 L226.06 170.10 L226.23 170.00 L226.41 169.89 L226.58 169.78 L226.76 169.68 L226.93 169.57 L227.11 169.46 L227.28 169.36 L227.46 169.25 L227.63 169.14 L227.80 169.03 L227.98 168.93 L228.15 168.82 L228.32 168.71 L228.50 168.60 L228.67 168.49 L228.84 168.38 L229.02 168.27 L229.19 168.16 L229.36 168.05 L229.54 167.94 L229.71 167.83 L229.88 167.72 L230.05 167.61 L230.22 167.50 L230.40 167.39 L230.57 167.28 L230.74 167.17 L230.91 167.06 L231.08 166.94 L231.25 166.83 L231.42 166.72 L231.59 166.61 L231.77 166.49 L231.94 166.38 L232.11 166.27 L232.28 166.15 L232.45 166.04 L232.62 165.92 L232.79 165.81 L232.96 165.70 L233.13 165.58 L233.29 165.47 L233.46 165.35 L233.63 165.23 L233.80 165.12 L233.97 165.00 L234.14 164.89 L234.31 164.77 L234.47 164.65 L234.64 164.54 L234.81 164.42 L234.98 164.30 L235.15 164.18 L235.31 164.07 L235.48 163.95 L235.65 163.83 L235.81 163.71 L235.98 163.59 L236.15 163.47 L236.31 163.35 L236.48 163.23 L236.64 163.11 L236.81 162.99 L236.98 162.87 L237.14 162.75 L237.31 162.63 L237.47 162.51 L237.64 162.39 L237.80 162.26 L237.97 162.14 L238.13 162.02 L238.29 161.90 L238.46 161.77 L238.62 161.65 L238.79 161.53 L238.95 161.40 L239.11 161.28 L239.28 161.16 L239.44 161.03 L239.60 160.91 L239.76 160.78 L239.93 160.66 L240.09 160.53 L240.25 160.40 L240.41 160.28 L240.58 160.15 L240.74 160.02 L240.90 159.90 L241.06 159.77 L241.22 159.64 L241.38 159.52 L241.54 159.39 L241.70 159.26 L241.86 159.13 L242.02 159.00 L242.18 158.87 L242.34 158.74 L242.50 158.61 L242.66 158.48 L242.82 158.35 L242.98 158.22 L243.14 158.09 L243.30 157.96 L243.46 157.83 L243.62 157.70 L243.77 157.57 L243.93 157.44 L244.09 157.31 L244.25 157.17 L244.41 157.04 L244.56 156.91 L244.72 156.78 L244.88 156.64 L245.04 156.51 L245.19 156.38 L245.35 156.24 L245.51 156.11 L245.66 155.98 L245.82 155.84 L245.98 155.71 L246.13 155.57 L246.29 155.44 L246.44 155.30 L246.60 155.17 L246.76 155.03 L246.91 154.90 L247.07 154.76 L247.22 154.63 L247.38 154.49 L247.53 154.35 L247.69 154.22 L247.84 154.08 L248.00 153.94 L248.15 153.81 L248.31 153.67 L248.46 153.53 L248.61 153.40 L248.77 153.26 L248.92 153.12 L249.08 152.98 L249.23 152.84 L249.38 152.71 L249.54 152.57 L249.69 152.43 L249.84 152.29 L250.00 152.15 L250.15 152.01 L250.30 151.87 L250.46 151.73 L250.61 151.60 L250.76 151.46 L250.91 151.32 L251.07 151.18 L251.22 151.04 L251.37 150.90 L251.52 150.76 L251.68 150.62 L251.83 150.48 L251.98 150.33 L252.13 150.19 L252.28 150.05 L252.44 149.91 L252.59 149.77 L252.74 149.63 L252.89 149.49 L253.04 149.35 L253.19 149.21 L253.34 149.06 L253.49 148.92 L253.65 148.78 L253.80 148.64 L253.95 148.50 L254.10 148.35 L254.25 148.21 L254.40 148.07 L254.55 147.93 L254.70 147.79 L254.85 147.64 L255.00 147.50 L255.15 147.36 L255.30 147.21 L255.45 147.07 L255.60 146.93 L255.75 146.79 L255.90 146.64 L256.05 146.50 L256.20 146.36 L256.35 146.21 L256.50 146.07 L256.65 145.93 L256.80 145.78 L256.95 145.64 L257.10 145.49 L257.25 145.35 L257.40 145.21 L257.55 145.06 L257.70 144.92 L257.85 144.78" stroke="#f0f" stroke-width="1.3" stroke-dasharray="8 3.5"/>
<path d="M169.98 195.95 L170.19 195.94 L170.40 195.93 L170.61 195.92 L170.82 195.92 L171.03 195.91 L171.25 195.90 L171.46 195.90 L171.68 195.89 L171.90 195.89 L172.11 195.89 L172.33 195.89 L172.55 195.89 L172.78 195.89 L173.00 195.89 L173.22 195.89 L173.45 195.89 L173.67 195.90 L173.90 195.90 L174.12 195.90 L174.35 195.91 L174.58 195.91 L174.81 195.92 L175.04 195.93 L175.27 195.93 L175.50 195.94 L175.73 195.95 L175.96 195.96 L176.20 195.97 L176.43 195.97 L176.66 195.98 L176.90 195.99 L177.13 196.00 L177.37 196.01 L177.61 196.02 L177.84 196.03 L178.08 196.04 L178.32 196.05 L178.55 196.06 L178.79 196.07 L179.03 196.08 L179.27 196.09 L179.51 196.09 L179.75 196.10 L179.99 196.11 L180.23 196.12 L180.47 196.13 L180.71 196.14 L180.95 196.14 L181.19 196.15 L181.43 196.16 L181.67 196.16 L181.92 196.17 L182.16 196.18 L182.40 196.18 L182.64 196.18 L182.88 196.19 L183.12 196.19 L183.36 196.19 L183.61 196.19 L183.85 196.20 L184.09 196.20 L184.33 196.19 L184.57 196.19 L184.81 196.19 L185.05 196.19 L185.29 196.18 L185.53 196.18 L185.77 196.17 L186.01 196.17 L186.25 196.16 L186.49 196.15 L186.73 196.14 L186.97 196.13 L187.20 196.11 L187.44 196.10 L187.68 196.08 L187.92 196.07 L188.15 196.05 L188.39 196.03 L188.62 196.01 L188.86 195.99 L189.09 195.97 L189.32 195.94 L189.56 195.91 L189.79 195.89 L190.02 195.86 L190.25 195.83 L190.48 195.79 L190.71 195.76 L190.94 195.72 L191.17 195.69 L191.40 195.65 L191.62 195.61 L191.85 195.56 L192.08 195.52 L192.30 195.47 L192.53 195.43 L192.75 195.38 L192.97 195.33 L193.19 195.27 L193.41 195.22 L193.63 195.16 L193.85 195.11 L194.07 195.05 L194.29 194.99 L194.50 194.92 L194.72 194.86 L194.94 194.79 L195.15 194.72 L195.36 194.65 L195.58 194.58 L195.79 194.51 L196.00 194.43 L196.21 194.35 L196.42 194.28 L196.62 194.19 L196.83 194.11 L197.04 194.03 L197.24 193.94 L197.44 193.85 L197.65 193.76 L197.85 193.67 L198.05 193.57 L198.25 193.48 L198.45 193.38 L198.65 193.28 L198.84 193.18 L199.04 193.07 L199.23 192.97 L199.43 192.86 L199.62 192.75 L199.81 192.64 L200.00 192.52 L200.19 192.41 L200.38 192.29 L200.56 192.17 L200.75 192.05 L200.94 191.93 L201.12 191.80 L201.30 191.67 L201.49 191.54 L201.67 191.41 L201.85 191.28 L202.03 191.15 L202.20 191.01 L202.38 190.88 L202.56 190.74 L202.73 190.60 L202.91 190.46 L203.08 190.32 L203.26 190.17 L203.43 190.03 L203.60 189.88 L203.77 189.73 L203.94 189.58 L204.11 189.43 L204.28 189.28 L204.45 189.12 L204.61 188.97 L204.78 188.81 L204.95 188.66 L205.11 188.50 L205.28 188.34 L205.44 188.18 L205.60 188.02 L205.77 187.85 L205.93 187.69 L206.09 187.53 L206.25 187.36 L206.41 187.19 L206.57 187.03 L206.73 186.86 L206.89 186.69 L207.05 186.52 L207.20 186.35 L207.36 186.18 L207.52 186.01 L207.67 185.83 L207.83 185.66 L207.99 185.49 L208.14 185.31 L208.30 185.14 L208.45 184.96 L208.60 184.78 L208.76 184.61 L208.91 184.43 L209.06 184.25 L209.22 184.08 L209.37 183.90 L209.52 183.72 L209.67 183.54 L209.82 183.36 L209.97 183.18 L210.13 183.00 L210.28 182.82 L210.43 182.64 L210.58 182.46 L210.73 182.28 L210.88 182.10 L211.03 181.92 L211.18 181.74 L211.32 181.55 L211.47 181.37 L211.62 181.19 L211.77 181.01 L211.92 180.83 L212.07 180.64 L212.22 180.46 L212.36 180.28 L212.51 180.10 L212.66 179.91 L212.81 179.73 L212.95 179.55 L213.10 179.36 L213.25 179.18 L213.40 179.00 L213.54 178.81 L213.69 178.63 L213.84 178.45 L213.98 178.26 L214.13 178.08 L214.28 177.89 L214.42 177.71 L214.57 177.53 L214.71 177.34 L214.86 177.16 L215.01 176.97 L215.15 176.79 L215.30 176.61 L215.44 176.42 L215.59 176.24 L215.73 176.05 L215.88 175.87 L216.03 175.69 L216.17 175.50 L216.32 175.32 L216.46 175.14 L216.61 174.95 L216.75 174.77 L216.90 174.59 L217.04 174.40 L217.19 174.22 L217.33 174.04 L217.48 173.85 L217.62 173.67 L217.77 173.49 L217.91 173.31 L218.06 173.12 L218.21 172.94 L218.35 172.76 L218.50 172.58 L218.64 172.40 L218.79 172.22 L218.93 172.03 L219.08 171.85 L219.22 171.67 L219.37 171.49 L219.52 171.31 L219.66 171.13 L219.81 170.95 L219.95 170.77 L220.10 170.59 L220.24 170.41 L220.39 170.23 L220.54 170.05 L220.68 169.87 L220.83 169.69 L220.97 169.51 L221.12 169.33 L221.27 169.15 L221.41 168.97 L221.56 168.79 L221.70 168.61 L221.85 168.44 L222.00 168.26 L222.14 168.08 L222.29 167.90 L222.43 167.72 L222.58 167.54 L222.73 167.37 L222.87 167.19 L223.02 167.01 L223.17 166.83 L223.31 166.65 L223.46 166.48 L223.60 166.30 L223.75 166.12 L223.90 165.94 L224.04 165.77 L224.19 165.59 L224.34 165.41 L224.48 165.24 L224.63 165.06 L224.78 164.88 L224.92 164.71 L225.07 164.53 L225.22 164.35 L225.36 164.18 L225.51 164.00 L225.66 163.82 L225.81 163.65 L225.95 163.47 L226.10 163.29 L226.25 163.12 L226.39 162.94 L226.54 162.77 L226.69 162.59 L226.83 162.41 L226.98 162.24 L227.13 162.06 L227.28 161.89 L227.42 161.71 L227.57 161.53 L227.72 161.36 L227.86 161.18 L228.01 161.01 L228.16 160.83 L228.31 160.66 L228.45 160.48 L228.60 160.30 L228.75 160.13 L228.90 159.95 L229.04 159.78 L229.19 159.60 L229.34 159.43 L229.49 159.25 L229.64 159.08 L229.78 158.90 L229.93 158.73 L230.08 158.55 L230.23 158.37 L230.37 158.20 L230.52 158.02 L230.67 157.85 L230.82 157.67 L230.97 157.50 L231.11 157.32 L231.26 157.15 L231.41 156.97 L231.56 156.80 L231.71 156.62 L231.86 156.45 L232.00 156.27 L232.15 156.09 L232.30 155.92 L232.45 155.74 L232.60 155.57 L232.75 155.39 L232.89 155.22 L233.04 155.04 L233.19 154.87 L233.34 154.69 L233.49 154.51 L233.64 154.34 L233.79 154.16 L233.94 153.99 L234.08 153.81 L234.23 153.64 L234.38 153.46 L234.53 153.28 L234.68 153.11 L234.83 152.93 L234.98 152.76 L235.13 152.58 L235.28 152.40 L235.43 152.23 L235.58 152.05 L235.73 151.88 L235.88 151.70 L236.03 151.53 L236.18 151.35 L236.33 151.17 L236.48 151.00 L236.63 150.82 L236.78 150.65 L236.93 150.47 L237.08 150.30 L237.23 150.12 L237.38 149.95 L237.53 149.77 L237.68 149.60 L237.84 149.43 L237.99 149.25 L238.14 149.08 L238.29 148.90 L238.45 148.73 L238.60 148.56 L238.75 148.38 L238.91 148.21 L239.06 148.04 L239.21 147.86 L239.37 147.69 L239.52 147.52 L239.68 147.35 L239.83 147.18 L239.99 147.01 L240.14 146.83 L240.30 146.66 L240.46 146.49 L240.61 146.32 L240.77 146.15 L240.93 145.98 L241.09 145.81 L241.24 145.65 L241.40 145.48 L241.56 145.31 L241.72 145.14 L241.88 144.97 L242.04 144.81 L242.20 144.64 L242.36 144.47 L242.52 144.31 L242.68 144.14 L242.85 143.98 L243.01 143.81 L243.17 143.65 L243.33 143.48 L243.50 143.32 L243.66 143.15 L243.82 142.99 L243.99 142.83 L244.15 142.66 L244.32 142.50 L244.48 142.34 L244.65 142.18 L244.81 142.02 L244.98 141.86 L245.15 141.70 L245.32 141.54 L245.48 141.38 L245.65 141.22 L245.82 141.06 L245.99 140.90 L246.16 140.74 L246.33 140.59 L246.50 140.43 L246.67 140.27 L246.84 140.12 L247.01 139.96 L247.18 139.81 L247.35 139.65 L247.52 139.50 L247.70 139.34 L247.87 139.19 L248.04 139.04 L248.22 138.89 L248.39 138.73 L248.57 138.58 L248.74 138.43 L248.92 138.28 L249.09 138.13 L249.27 137.98 L249.45 137.83 L249.62 137.68 L249.80 137.53 L249.98 137.39 L250.16 137.24 L250.34 137.09 L250.51 136.94 L250.69 136.80 L250.87 136.65 L251.05 136.51 L251.23 136.36 L251.42 136.22 L251.60 136.08 L251.78 135.93 L251.96 135.79 L252.14 135.65 L252.33 135.51 L252.51 135.37 L252.69 135.23 L252.88 135.09 L253.06 134.95 L253.25 134.81 L253.43 134.67 L253.62 134.53 L253.81 134.40 L253.99 134.26 L254.18 134.12 L254.37 133.99 L254.56 133.85 L254.75 133.72 L254.94 133.58 L255.13 133.45 L255.31 133.32 L255.51 133.19 L255.70 133.05 L255.89 132.92 L256.08 132.79 L256.27 132.66 L256.46 132.53 L256.66 132.40 L256.85 132.28 L257.04 132.15 L257.24 132.02 L257.43 131.89 L257.63 131.77 L257.82 131.64 L258.02 131.52" stroke="#f00" stroke-width="1.8"/>
<path d="M169.98 195.95 L170.20 195.95 L170.43 195.96 L170.66 195.97 L170.88 195.97 L171.11 195.98 L171.34 195.98 L171.57 195.99 L171.80 196.00 L172.04 196.01 L172.27 196.01 L172.50 196.02 L172.74 196.03 L172.97 196.04 L173.21 196.05 L173.45 196.06 L173.68 196.07 L173.92 196.08 L174.16 196.08 L174.40 196.09 L174.64 196.10 L174.88 196.11 L175.12 196.12 L175.36 196.13 L175.60 196.14 L175.84 196.15 L176.09 196.16 L176.33 196.17 L176.57 196.18 L176.82 196.18 L177.06 196.19 L177.31 196.20 L177.55 196.21 L177.80 196.22 L178.04 196.22 L178.29 196.23 L178.54 196.24 L178.78 196.25 L179.03 196.25 L179.28 196.26 L179.52 196.26 L179.77 196.27 L180.02 196.27 L180.27 196.28 L180.52 196.28 L180.76 196.28 L181.01 196.29 L181.26 196.29 L181.51 196.29 L181.76 196.29 L182.01 196.29 L182.26 196.29 L182.51 196.29 L182.75 196.28 L183.00 196.28 L183.25 196.28 L183.50 196.27 L183.75 196.27 L184.00 196.26 L184.25 196.26 L184.50 196.25 L184.74 196.24 L184.99 196.23 L185.24 196.22 L185.49 196.21 L185.74 196.20 L185.98 196.18 L186.23 196.17 L186.48 196.15 L186.72 196.14 L186.97 196.12 L187.21 196.10 L187.46 196.08 L187.71 196.06 L187.95 196.04 L188.19 196.02 L188.44 195.99 L188.68 195.97 L188.92 195.94 L189.17 195.91 L189.41 195.88 L189.65 195.85 L189.89 195.82 L190.13 195.78 L190.37 195.75 L190.61 195.71 L190.85 195.68 L191.09 195.64 L191.33 195.60 L191.56 195.55 L191.80 195.51 L192.04 195.46 L192.27 195.42 L192.51 195.37 L192.74 195.32 L192.97 195.27 L193.20 195.21 L193.44 195.16 L193.67 195.10 L193.90 195.04 L194.12 194.98 L194.35 194.92 L194.58 194.85 L194.81 194.79 L195.03 194.72 L195.26 194.65 L195.48 194.58 L195.70 194.50 L195.92 194.43 L196.14 194.35 L196.36 194.27 L196.58 194.19 L196.80 194.11 L197.01 194.02 L197.23 193.93 L197.44 193.84 L197.66 193.75 L197.87 193.66 L198.08 193.56 L198.29 193.46 L198.50 193.36 L198.70 193.26 L198.91 193.15 L199.12 193.05 L199.32 192.94 L199.52 192.82 L199.72 192.71 L199.92 192.59 L200.12 192.47 L200.32 192.35 L200.51 192.23 L200.71 192.10 L200.90 191.98 L201.09 191.85 L201.28 191.71 L201.47 191.58 L201.66 191.45 L201.85 191.31 L202.04 191.17 L202.22 191.03 L202.41 190.88 L202.59 190.74 L202.77 190.59 L202.96 190.44 L203.14 190.29 L203.32 190.14 L203.50 189.99 L203.67 189.83 L203.85 189.67 L204.03 189.52 L204.20 189.36 L204.38 189.20 L204.55 189.03 L204.72 188.87 L204.90 188.71 L205.07 188.54 L205.24 188.37 L205.41 188.20 L205.58 188.03 L205.75 187.86 L205.91 187.69 L206.08 187.52 L206.25 187.34 L206.41 187.17 L206.58 186.99 L206.74 186.82 L206.91 186.64 L207.07 186.46 L207.24 186.28 L207.40 186.10 L207.56 185.92 L207.72 185.74 L207.89 185.56 L208.05 185.37 L208.21 185.19 L208.37 185.01 L208.53 184.82 L208.69 184.64 L208.85 184.45 L209.01 184.27 L209.17 184.08 L209.32 183.89 L209.48 183.71 L209.64 183.52 L209.80 183.34 L209.96 183.15 L210.11 182.96 L210.27 182.77 L210.43 182.59 L210.58 182.40 L210.74 182.21 L210.90 182.02 L211.05 181.84 L211.21 181.65 L211.37 181.46 L211.52 181.27 L211.68 181.08 L211.83 180.90 L211.99 180.71 L212.15 180.52 L212.30 180.33 L212.46 180.14 L212.61 179.95 L212.77 179.77 L212.92 179.58 L213.07 179.39 L213.23 179.20 L213.38 179.01 L213.54 178.82 L213.69 178.63 L213.85 178.44 L214.00 178.25 L214.15 178.06 L214.31 177.87 L214.46 177.69 L214.62 177.50 L214.77 177.31 L214.92 177.12 L215.08 176.93 L215.23 176.74 L215.38 176.55 L215.54 176.36 L215.69 176.17 L215.84 175.98 L216.00 175.79 L216.15 175.60 L216.30 175.41 L216.45 175.22 L216.61 175.03 L216.76 174.84 L216.91 174.66 L217.07 174.47 L217.22 174.28 L217.37 174.09 L217.52 173.90 L217.68 173.71 L217.83 173.52 L217.98 173.33 L218.13 173.14 L218.29 172.95 L218.44 172.76 L218.59 172.58 L218.74 172.39 L218.90 172.20 L219.05 172.01 L219.20 171.82 L219.36 171.63 L219.51 171.44 L219.66 171.26 L219.81 171.07 L219.97 170.88 L220.12 170.69 L220.27 170.50 L220.42 170.31 L220.58 170.13 L220.73 169.94 L220.88 169.75 L221.03 169.56 L221.19 169.37 L221.34 169.19 L221.49 169.00 L221.64 168.81 L221.80 168.62 L221.95 168.44 L222.10 168.25 L222.25 168.06 L222.41 167.87 L222.56 167.69 L222.71 167.50 L222.86 167.31 L223.02 167.12 L223.17 166.94 L223.32 166.75 L223.47 166.56 L223.63 166.37 L223.78 166.19 L223.93 166.00 L224.08 165.81 L224.24 165.63 L224.39 165.44 L224.54 165.25 L224.69 165.07 L224.85 164.88 L225.00 164.69 L225.15 164.50 L225.30 164.32 L225.46 164.13 L225.61 163.94 L225.76 163.76 L225.91 163.57 L226.07 163.38 L226.22 163.20 L226.37 163.01 L226.52 162.83 L226.67 162.64 L226.83 162.45 L226.98 162.27 L227.13 162.08 L227.28 161.89 L227.44 161.71 L227.59 161.52 L227.74 161.33 L227.89 161.15 L228.05 160.96 L228.20 160.78 L228.35 160.59 L228.50 160.40 L228.66 160.22 L228.81 160.03 L228.96 159.85 L229.11 159.66 L229.27 159.47 L229.42 159.29 L229.57 159.10 L229.72 158.92 L229.87 158.73 L230.03 158.54 L230.18 158.36 L230.33 158.17 L230.48 157.99 L230.64 157.80 L230.79 157.62 L230.94 157.43 L231.09 157.24 L231.25 157.06 L231.40 156.87 L231.55 156.69 L231.70 156.50 L231.86 156.32 L232.01 156.13 L232.16 155.94 L232.31 155.76 L232.47 155.57 L232.62 155.39 L232.77 155.20 L232.92 155.02 L233.07 154.83 L233.23 154.65 L233.38 154.46 L233.53 154.27 L233.68 154.09 L233.84 153.90 L233.99 153.72 L234.14 153.53 L234.29 153.35 L234.45 153.16 L234.60 152.98 L234.75 152.79 L234.90 152.61 L235.06 152.42 L235.21 152.24 L235.36 152.05 L235.51 151.87 L235.67 151.68 L235.82 151.49 L235.97 151.31 L236.12 151.12 L236.27 150.94 L236.43 150.75 L236.58 150.57 L236.73 150.38 L236.88 150.20 L237.04 150.01 L237.19 149.83 L237.34 149.64 L237.49 149.46 L237.65 149.27 L237.80 149.09 L237.95 148.90 L238.10 148.72 L238.26 148.53 L238.41 148.35 L238.56 148.16 L238.71 147.97 L238.87 147.79 L239.02 147.60 L239.17 147.42 L239.32 147.23 L239.48 147.05 L239.63 146.86 L239.78 146.68 L239.93 146.49 L240.09 146.31 L240.24 146.12 L240.39 145.94 L240.54 145.75 L240.70 145.57 L240.85 145.38 L241.00 145.20 L241.15 145.01 L241.31 144.82 L241.46 144.64 L241.61 144.45 L241.76 144.27 L241.92 144.08 L242.07 143.90 L242.22 143.71 L242.38 143.53 L242.53 143.34 L242.68 143.16 L242.83 142.97 L242.99 142.79 L243.14 142.60 L243.29 142.41 L243.44 142.23 L243.60 142.04 L243.75 141.86 L243.90 141.67 L244.05 141.49 L244.21 141.30 L244.36 141.12 L244.51 140.93 L244.66 140.74 L244.82 140.56 L244.97 140.37 L245.12 140.19 L245.28 140.00 L245.43 139.82 L245.58 139.63 L245.73 139.44 L245.89 139.26 L246.04 139.07 L246.19 138.89 L246.34 138.70 L246.50 138.51 L246.65 138.33 L246.80 138.14 L246.96 137.96 L247.11 137.77 L247.26 137.58 L247.41 137.40 L247.57 137.21 L247.72 137.03 L247.87 136.84 L248.03 136.65 L248.18 136.47 L248.33 136.28 L248.48 136.10 L248.64 135.91 L248.79 135.72 L248.94 135.54 L249.10 135.35 L249.25 135.16 L249.40 134.98 L249.56 134.79 L249.71 134.60 L249.86 134.42 L250.01 134.23 L250.17 134.04 L250.32 133.86 L250.47 133.67 L250.63 133.48 L250.78 133.30 L250.93 133.11 L251.09 132.92 L251.24 132.74 L251.39 132.55 L251.54 132.36 L251.70 132.18 L251.85 131.99 L252.00 131.80 L252.16 131.61 L252.31 131.43 L252.46 131.24 L252.62 131.05 L252.77 130.87 L252.92 130.68 L253.08 130.49 L253.23 130.30 L253.38 130.12 L253.54 129.93 L253.69 129.74 L253.84 129.55 L254.00 129.37 L254.15 129.18 L254.30 128.99 L254.46 128.80 L254.61 128.62 L254.76 128.43 L254.92 128.24 L255.07 128.05 L255.22 127.86 L255.38 127.68 L255.53 127.49 L255.68 127.30 L255.84 127.11 L255.99 126.92 L256.14 126.73 L256.30 126.55 L256.45 126.36 L256.60 126.17 L256.76 125.98 L256.91 125.79 L257.06 125.60 L257.22 125.41 L257.37 125.23 L257.53 125.04 L257.68 124.85 L257.83 124.66 L257.99 124.47" stroke="#000" stroke-width="1.2"/>
</g>
<g stroke="#000" stroke-width="1" fill="none">
<rect x="170.20" y="124.10" width="88.00" height="72.30"/>
<line x1="170.20" y1="196.40" x2="170.20" y2="199.40"/>
<line x1="166.40" y1="196.40" x2="170.20" y2="196.40"/>
<line x1="192.20" y1="196.40" x2="192.20" y2="198.00"/>
<line x1="168.00" y1="178.32" x2="170.20" y2="178.32"/>
<line x1="214.20" y1="196.40" x2="214.20" y2="199.40"/>
<line x1="166.40" y1="160.25" x2="170.20" y2="160.25"/>
<line x1="236.20" y1="196.40" x2="236.20" y2="198.00"/>
<line x1="168.00" y1="142.18" x2="170.20" y2="142.18"/>
<line x1="258.20" y1="196.40" x2="258.20" y2="199.40"/>
<line x1="166.40" y1="124.10" x2="170.20" y2="124.10"/>
</g>
<g font-size="8.5" fill="#000">
<text x="170.50" y="210.4" text-anchor="middle">0.00</text>
<text x="214.50" y="210.4" text-anchor="middle">0.05</text>
<text x="258.50" y="210.4" text-anchor="middle">0.10</text>
<text x="164" y="199.40" text-anchor="end">0.00</text>
<text x="164" y="163.25" text-anchor="end">0.05</text>
</g>
<g font-size="9.2" letter-spacing="-0.1">
<text x="193.6" y="143.4" fill="#00f"><tspan font-style="italic">h</tspan>=1</text>
<text x="215.6" y="155.8" fill="#000"><tspan font-style="italic">J</tspan><tspan font-size="7.5" dx="0.8" dy="3.2">+</tspan></text>
<text x="242.6" y="167.7" fill="#f0f"><tspan font-style="italic">J</tspan><tspan font-size="7.5" dy="-0.8">_</tspan></text>
<text x="212.8" y="190" fill="#000"><tspan font-style="italic">h</tspan>=0, <tspan fill="#f00">1.5</tspan></text>
</g>
</svg></body></html>
